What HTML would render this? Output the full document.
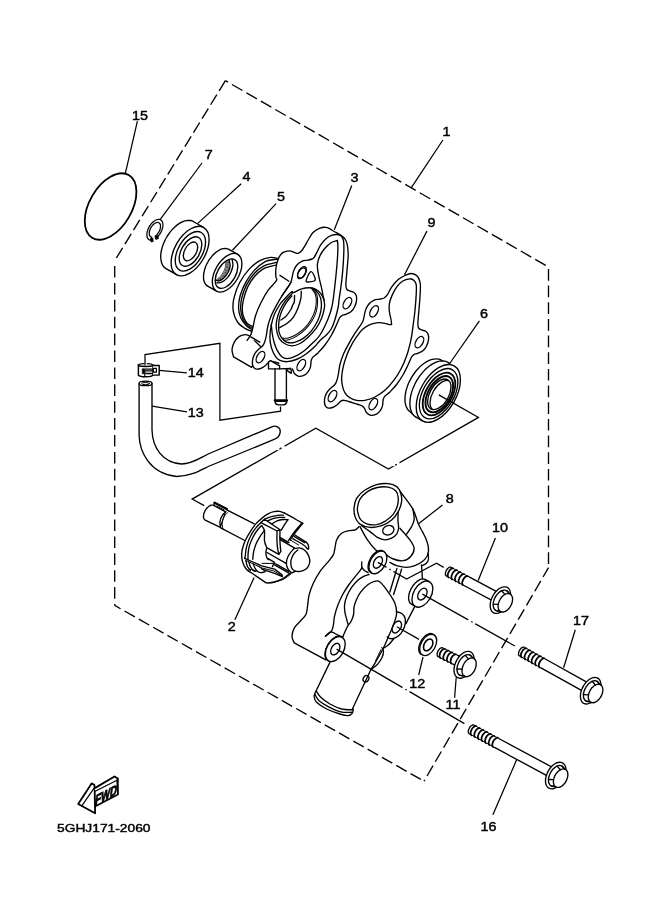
<!DOCTYPE html>
<html><head><meta charset="utf-8"><title>Water Pump</title>
<style>
html,body{margin:0;padding:0;background:#fff;}
body{width:661px;height:913px;overflow:hidden;}
svg{display:block;}
.l{fill:none;stroke:#000;stroke-width:1.35;stroke-linecap:round;stroke-linejoin:round;}
.n{fill:none;stroke:#000;stroke-width:1.0;stroke-linecap:round;stroke-linejoin:round;}
.t{fill:none;stroke:#000;stroke-width:1.25;stroke-linecap:butt;}
.f{fill:#fff;stroke:#000;stroke-width:1.35;stroke-linejoin:round;stroke-linecap:round;}
.w{fill:#fff;stroke:none;}
.k{fill:#000;stroke:#000;stroke-width:0.6;}
.d{fill:none;stroke:#000;stroke-width:1.35;stroke-dasharray:12 5;}
.c{fill:none;stroke:#000;stroke-width:1.1;stroke-dasharray:22 3 3 3;}
text{font-family:"Liberation Sans",Arial,sans-serif;font-size:12.4px;fill:#000;stroke:#000;stroke-width:0.42px;text-anchor:middle;}
</style></head><body>
<svg width="661" height="913" viewBox="0 0 661 913">
<rect width="661" height="913" fill="#fff"/>
<g id="outline">
<path class="d" d="M225.4 80.7 L114.7 260.7" style="stroke-dasharray:11.9 4.45;stroke-dashoffset:0"/>
<path class="d" d="M225.4 80.7 L548.5 267" style="stroke-dasharray:12.1 4.57;stroke-dashoffset:9.1"/>
<path class="d" d="M548.5 267 L548.5 567.7" style="stroke-dasharray:11.7 4.96;stroke-dashoffset:14.7"/>
<path class="d" d="M548.5 567.7 L424 781.2" style="stroke-dasharray:11.9 4.55;stroke-dashoffset:1.1"/>
<path class="d" d="M424 781.2 L114.7 605.4" style="stroke-dasharray:11.9 4.55;stroke-dashoffset:12.9"/>
<path class="d" d="M114.7 260.7 L114.7 605.4" style="stroke-dasharray:11.6 5.3;stroke-dashoffset:11.6"/>
</g>
<g id="p15">
<ellipse class="l" cx="110.6" cy="206.5" rx="21.2" ry="36.3" transform="rotate(30 110.6 206.5)" style="stroke-width:1.8"/>
</g>
<g id="p7">
<path class="f" d="M150.4 240.2 C150.3 240.2 149.8 240.1 149.5 240 C149.3 239.8 149 239.7 148.8 239.5 C148.5 239.3 148.3 239.1 148.1 238.9 C147.9 238.6 147.7 238.3 147.6 238 C147.4 237.7 147.3 237.4 147.2 237 C147.1 236.7 147 236.3 147 235.9 C146.9 235.5 146.9 235.1 146.9 234.7 C146.9 234.2 146.9 233.8 147 233.3 C147 232.9 147.1 232.4 147.2 231.9 C147.3 231.4 147.4 230.9 147.6 230.5 C147.8 230 147.9 229.5 148.1 229 C148.3 228.5 148.6 228 148.8 227.5 C149 227.1 149.3 226.6 149.6 226.1 C149.9 225.7 150.2 225.2 150.5 224.8 C150.8 224.4 151.1 223.9 151.5 223.5 C151.8 223.2 152.2 222.8 152.5 222.4 C152.9 222.1 153.2 221.8 153.6 221.5 C154 221.2 154.4 220.9 154.7 220.7 C155.1 220.4 155.5 220.2 155.9 220 C156.2 219.9 156.6 219.7 157 219.6 C157.3 219.5 157.7 219.4 158 219.4 C158.4 219.3 158.7 219.3 159 219.3 C159.3 219.4 159.7 219.4 159.9 219.5 C160.2 219.6 160.5 219.8 160.8 219.9 C161 220.1 161.3 220.3 161.5 220.5 C161.7 220.7 161.9 221 162 221.2 C162.2 221.5 162.4 221.8 162.5 222.2 C162.6 222.5 162.7 222.9 162.8 223.3 C162.8 223.6 162.9 224 162.9 224.5 C162.9 224.9 162.9 225.3 162.9 225.8 C162.8 226.2 162.8 226.7 162.7 227.2 C162.6 227.6 162.5 228.1 162.4 228.6 C162.2 229.1 162.1 229.6 161.9 230.1 C161.7 230.6 161.5 231.1 161.2 231.5 C161 232 160.8 232.5 160.5 233 C160.2 233.4 159.9 233.9 159.6 234.3 C159.3 234.8 159 235.2 158.7 235.6 C158.4 236 158 236.4 157.7 236.8 C157.3 237.1 157 237.5 156.6 237.8 C156.2 238.1 155.7 238.5 155.5 238.7 L155.3 236 155.3 236 C155.4 235.9 155.8 235.7 156.1 235.4 C156.3 235.2 156.6 235 156.9 234.7 C157.1 234.5 157.3 234.2 157.6 233.9 C157.8 233.6 158 233.3 158.2 233 C158.5 232.7 158.7 232.4 158.8 232 C159 231.7 159.2 231.4 159.4 231 C159.5 230.7 159.7 230.3 159.8 230 C159.9 229.7 160.1 229.3 160.2 229 C160.2 228.6 160.3 228.3 160.4 227.9 C160.4 227.6 160.5 227.3 160.5 227 C160.5 226.7 160.5 226.3 160.5 226 C160.5 225.7 160.5 225.5 160.4 225.2 C160.4 224.9 160.3 224.7 160.2 224.4 C160.2 224.2 160.1 224 159.9 223.8 C159.8 223.6 159.7 223.4 159.5 223.2 C159.4 223.1 159.2 222.9 159 222.8 C158.9 222.7 158.7 222.6 158.5 222.6 C158.2 222.5 158 222.5 157.8 222.4 C157.6 222.4 157.3 222.4 157.1 222.5 C156.9 222.5 156.6 222.5 156.3 222.6 C156.1 222.7 155.8 222.8 155.6 222.9 C155.3 223 155 223.2 154.8 223.4 C154.5 223.5 154.3 223.7 154 223.9 C153.7 224.1 153.5 224.4 153.2 224.6 C153 224.9 152.7 225.1 152.5 225.4 C152.2 225.7 152 226 151.8 226.3 C151.6 226.6 151.4 226.9 151.2 227.2 C151 227.5 150.8 227.9 150.6 228.2 C150.4 228.5 150.3 228.9 150.1 229.2 C150 229.6 149.9 229.9 149.8 230.3 C149.7 230.6 149.6 230.9 149.5 231.3 C149.4 231.6 149.4 232 149.3 232.3 C149.3 232.6 149.3 232.9 149.3 233.2 C149.3 233.5 149.3 233.8 149.3 234.1 C149.3 234.4 149.4 234.7 149.5 234.9 C149.5 235.2 149.6 235.4 149.7 235.6 C149.8 235.8 150 236 150.1 236.2 C150.3 236.4 150.4 236.5 150.6 236.6 C150.7 236.8 150.9 236.9 151.1 237 C151.3 237 151.7 237.1 151.8 237.1Z" style="stroke-width:1.25"/>
<path class="k" d="M150.6 238.6 L153 238.2 L153.3 241.6 L150.9 242 Z M155.7 236.2 L158.1 235.4 L158.5 238.6 L156.3 239.6 Z"/>
</g>
<g id="p4">
<path class="f" d="M176.5 274.7 L166.1 268.7 M166.1 268.7 C165.7 268.4 164.6 267.7 164 267 C163.4 266.3 162.8 265.5 162.4 264.7 C161.9 263.8 161.6 262.8 161.3 261.7 C161 260.7 160.9 259.5 160.8 258.3 C160.7 257.1 160.7 255.8 160.8 254.4 C160.9 253.1 161.1 251.7 161.5 250.3 C161.8 248.9 162.1 247.4 162.6 246 C163.1 244.6 163.7 243.1 164.3 241.7 C165 240.3 165.7 238.8 166.5 237.5 C167.3 236.1 168.1 234.8 169.1 233.5 C170 232.2 170.9 231 171.9 229.9 C173 228.7 174 227.7 175.1 226.7 C176.1 225.7 177.2 224.8 178.3 224.1 C179.4 223.3 180.6 222.7 181.7 222.1 C182.7 221.6 183.8 221.1 184.9 220.8 C186 220.5 187 220.4 188 220.3 C189 220.3 189.9 220.3 190.8 220.5 C191.7 220.7 192.9 221.3 193.3 221.5 M193.3 221.5 L203.7 227.5"/>
<ellipse class="f" cx="190.1" cy="251.1" rx="15.3" ry="27.2" transform="rotate(30 190.1 251.1)"/>
<ellipse class="l" cx="190.4" cy="251.3" rx="12.2" ry="21.7" transform="rotate(30 190.4 251.3)"/>
<ellipse class="l" cx="190.5" cy="251.5" rx="9.1" ry="16.2" transform="rotate(30 190.5 251.5)"/>
<ellipse class="l" cx="190.5" cy="251.4" rx="5.8" ry="10.3" transform="rotate(30 190.5 251.4)"/>
</g>
<g id="p5">
<path class="f" d="M216.5 291.2 L207.7 286.1 M207.7 286.1 C207.4 285.8 206.5 285.3 206 284.8 C205.6 284.2 205.1 283.6 204.8 282.9 C204.4 282.2 204.2 281.5 203.9 280.6 C203.7 279.8 203.6 278.9 203.5 277.9 C203.5 277 203.5 276 203.6 275 C203.7 273.9 203.8 272.8 204.1 271.7 C204.3 270.6 204.6 269.5 205 268.4 C205.4 267.3 205.8 266.1 206.3 265 C206.8 263.9 207.4 262.8 208 261.8 C208.6 260.7 209.3 259.7 210 258.7 C210.7 257.7 211.5 256.7 212.2 255.8 C213 255 213.8 254.1 214.7 253.4 C215.5 252.6 216.4 251.9 217.2 251.4 C218.1 250.8 218.9 250.2 219.8 249.8 C220.6 249.4 221.5 249.1 222.3 248.8 C223.1 248.6 223.9 248.5 224.7 248.4 C225.5 248.4 226.2 248.4 226.9 248.6 C227.6 248.7 228.5 249.2 228.9 249.3 M228.9 249.3 L237.7 254.4"/>
<ellipse class="f" cx="227.1" cy="272.8" rx="11.9" ry="21.2" transform="rotate(30 227.1 272.8)"/>
<clipPath id="c5"><ellipse cx="226.5" cy="273.6" rx="9.1" ry="16.2" transform="rotate(30 226.5 273.6)"/></clipPath>
<g clip-path="url(#c5)">
<path class="l" d="M231.9 258.6 C232.1 259.7 233.1 263.1 232.9 265.4 C232.7 267.7 231.9 270 230.9 272.2 C229.9 274.4 228.4 276.7 226.8 278.4 C225.2 280.1 223 281.7 221.3 282.4 C219.7 283.1 217.6 282.7 216.9 282.8"/>
<path class="l" d="M228.8 259.3 C229 260.3 230.2 263.4 230.2 265.4 C230.1 267.4 229.4 269.6 228.5 271.5 C227.6 273.4 226.1 275.5 224.7 277 C223.3 278.5 221.3 280.1 220 280.7 C218.7 281.3 217.2 280.4 216.6 280.4"/>
<path class="n" d="M227.7 259.2 C227.9 260.2 229.1 263.3 229 265.3 C229 267.3 228.3 269.5 227.3 271.4 C226.4 273.3 225 275.4 223.5 276.9 C222.1 278.4 220.2 280 218.8 280.6 C217.5 281.2 216 280.3 215.4 280.3" style="stroke-width:0.7"/>
<path class="n" d="M226.5 259.1 C226.7 260.1 227.9 263.2 227.9 265.2 C227.8 267.2 227.1 269.4 226.2 271.3 C225.3 273.2 223.8 275.3 222.4 276.8 C221 278.3 219 279.9 217.7 280.5 C216.3 281.1 214.9 280.2 214.3 280.2" style="stroke-width:0.7"/>
<path class="n" d="M225.4 259 C225.6 260 226.8 263.1 226.8 265.1 C226.7 267.1 226 269.3 225.1 271.2 C224.1 273.1 222.7 275.2 221.2 276.7 C219.8 278.2 217.9 279.8 216.6 280.4 C215.2 281 213.7 280.1 213.2 280.1" style="stroke-width:0.7"/>
<path class="n" d="M224.2 258.9 C224.4 259.9 225.7 263 225.6 265 C225.5 267 224.8 269.2 223.9 271.1 C223 273 221.5 275.1 220.1 276.6 C218.7 278.1 216.8 279.7 215.4 280.3 C214.1 280.9 212.6 280.1 212 280" style="stroke-width:0.7"/>
</g>
<ellipse class="l" cx="226.5" cy="273.6" rx="9.1" ry="16.2" transform="rotate(30 226.5 273.6)"/>
</g>
<g id="p3">
<path class="f" d="M279.5 259.2 C279.2 259.1 279.3 258.8 277.8 258.5 C276.3 258.2 273.4 257 270.4 257.4 C267.4 257.8 263.3 258.7 259.8 260.6 C256.3 262.6 252.6 265.4 249.2 269.1 C245.8 272.8 242.2 277.9 239.6 282.8 C237 287.7 234.9 293.9 233.8 298.7 C232.8 303.5 232.7 307.5 233.3 311.4 C233.9 315.3 235.6 319.2 237.5 322 C239.4 324.8 242.7 326.9 244.9 328.4 C247.1 329.9 249.5 330.5 250.8 331 C252.2 331.5 252.6 331.4 253 331.5"/>
<path class="l" d="M278 259.3 C277.4 259.3 276.8 259.1 274.6 259.5 C272.5 259.9 268.5 259.8 265.1 261.6 C261.8 263.4 257.7 266.7 254.5 270.1 C251.3 273.5 248.4 277.6 246 281.8 C243.6 286 241.4 291.1 240.2 295.5 C239 299.9 238.5 304.5 238.6 308.2 C238.7 311.9 239.5 315 240.7 317.8 C241.9 320.6 244.3 323.4 246 325.2 C247.7 327 249.6 328.1 250.8 328.9 C252 329.7 252.6 329.8 253 330"/>
<path class="l" d="M277 262.4 C276.4 262.5 275.7 262.6 273.5 263.2 C271.3 263.8 267.2 264.2 264 265.9 C260.8 267.6 257.4 270.1 254.5 273.3 C251.6 276.5 248.6 280.8 246.5 284.9 C244.4 289 242.8 293.6 241.8 297.7 C240.8 301.8 240.5 305.8 240.7 309.3 C240.9 312.8 241.8 316.3 242.8 318.8 C243.8 321.3 245.1 322.7 246.5 324.1 C247.9 325.6 249.8 326.8 251 327.5 C252.2 328.2 253.1 328.3 253.5 328.5"/>
<path class="l" d="M276.5 264.9 C275.8 265.1 274.8 265.2 272.5 265.9 C270.2 266.6 265.9 267.3 262.9 269.1 C259.9 270.9 257.1 273.5 254.5 276.5 C251.9 279.5 249.4 283.2 247.6 287.1 C245.8 291 244.3 295.9 243.4 299.8 C242.5 303.7 242.2 307.4 242.3 310.4 C242.4 313.4 243.1 315.7 243.9 317.8 C244.7 319.9 245.8 321.7 247.1 323.1 C248.4 324.5 250.3 325.4 251.5 326 C252.7 326.6 253.6 326.8 254 327"/>
<path class="f" d="M251.6 367.4 L233.6 356.9 L233.6 356.9 C233.3 355.7 231.9 352.3 232 349.9 C232.1 347.5 233 344.6 234.2 342.4 C235.4 340.2 237.3 337.9 239.1 336.6 C240.9 335.3 243.5 334.8 245 334.6 C246.5 334.4 247.3 334.9 248.3 335.3 C249.3 335.7 250.6 336.7 251 337 L262 348Z"/>
<path class="w" d="M247.1 340.5 C247.7 339.5 249.8 336.9 250.8 334.7 C251.8 332.5 252.1 330.5 252.9 327.3 C253.7 324.1 254.2 319.8 255.5 315.7 C256.8 311.6 258.7 307.2 260.8 303 C262.9 298.8 265.6 293.9 268.2 290.2 C270.8 286.5 275.1 282.9 276.4 280.7 C277.7 278.5 276 278.6 275.9 277 C275.8 275.4 275.6 273.4 275.7 271.2 C275.8 269 276.2 266 276.7 263.8 C277.2 261.6 278.1 259.5 278.6 258.2 C279.1 256.9 279.1 256.8 279.9 255.8 C280.7 254.8 281.7 253.2 283.2 252.4 C284.7 251.6 287.2 250.8 289.1 250.8 C291.1 250.8 293.4 252.2 294.9 252.6 C296.4 253 297.1 253.6 298.2 253.3 C299.3 253 300.5 252.1 301.6 250.8 C302.7 249.6 303.8 247.6 304.9 245.8 C306 244 306.8 242.2 308.2 240 C309.6 237.8 311.1 234.5 313 232.6 C314.9 230.7 317.3 229.3 319.4 228.4 C321.5 227.5 323.9 227.2 325.7 227.3 C327.4 227.4 328.5 228.2 329.9 228.9 C331.3 229.6 332.6 230.6 334.2 231.5 C335.8 232.4 337.8 233.1 339.5 234.2 C341.2 235.3 343 236.4 344.2 237.9 C345.4 239.4 346.4 242.3 346.9 243.2 L330 300 L270 340Z"/>
<path class="l" d="M279.9 275.4 L288.9 281.2"/>
<path class="l" d="M250.8 336.8 L259.8 342.1"/>
<path class="w" d="M332.9 236.5 C335.1 235.5 337.5 234.4 339.5 234.5 C341.6 234.6 343.9 235.7 345.4 237.3 C346.8 238.9 347.7 241.2 348.2 244 C348.7 246.8 348.4 249.5 348.2 254 C348 258.4 347.4 265.6 347 270.6 C346.6 275.6 345.9 280.9 345.9 283.9 C345.8 287 345.9 287.7 346.5 288.9 C347.1 290.1 348.3 290.4 349.5 290.9 C350.7 291.5 352.6 291.5 353.7 292.2 C354.8 293 355.7 294.2 356.2 295.6 C356.7 297 356.7 298.8 356.5 300.6 C356.3 302.4 355.7 304.6 354.8 306.4 C354 308.2 352.6 310.1 351.2 311.4 C349.7 312.7 347.7 313.5 346.2 314.2 C344.7 314.9 343.1 314.9 342 315.5 C340.9 316.2 340.5 316.4 339.5 318 C338.6 319.7 337.6 322.6 336.2 325.5 C334.8 328.4 333.2 332.2 331.2 335.5 C329.3 338.8 326.8 342.6 324.6 345.5 C322.3 348.4 319.8 351 317.9 353 C316 354.9 314 355.9 312.9 357.1 C311.8 358.4 311.7 358.8 311.2 360.5 C310.8 362.1 311 365.2 310.4 367.1 C309.9 369.1 309 370.7 307.9 372.1 C306.8 373.5 305.3 374.8 303.8 375.4 C302.2 376.1 300.3 376.6 298.8 376.3 C297.2 376 295.6 374.9 294.6 373.8 C293.6 372.7 293.3 370.7 292.6 369.6 C291.9 368.5 291.5 367.8 290.4 367.1 C289.4 366.4 288.4 366.2 286.3 365.5 C284.2 364.8 280.3 363.7 278 363 C275.6 362.3 273.7 361.4 272.1 361.3 C270.6 361.2 269.9 361.4 268.8 362.1 C267.7 362.8 266.9 364.4 265.5 365.5 C264.1 366.5 262.2 367.9 260.5 368.5 C258.8 369 256.7 369.2 255.5 368.8 C254.2 368.4 253.5 367.7 253 366.3 C252.5 364.9 252.3 362.4 252.5 360.5 C252.7 358.5 253.4 356.4 254.3 354.6 C255.2 352.8 256.7 351 258 349.7 C259.3 348.3 261 347.6 262.2 346.3 C263.3 345.1 264 344 264.6 342.2 C265.3 340.4 265.8 338.3 266.3 335.5 C266.9 332.7 267.1 328.9 268 325.5 C268.8 322.2 269.9 318.9 271.3 315.5 C272.7 312.2 274.5 308.9 276.3 305.6 C278.1 302.2 280.2 298.6 282.1 295.6 C284.1 292.5 286.5 289.5 287.9 287.2 C289.4 285 290.2 283.9 290.9 282.3 C291.6 280.6 291.6 279.2 292.1 277.3 C292.6 275.3 292.9 272.7 293.8 270.6 C294.6 268.5 295.7 266.4 297.1 264.8 C298.5 263.2 300.3 261.9 302.1 261.1 C303.9 260.3 306.3 260.5 307.9 260.1 C309.6 259.8 310.8 259.7 312.1 259 C313.3 258.2 314.2 257.4 315.4 255.6 C316.7 253.8 317.8 250.6 319.6 248.1 C321.4 245.6 324 242.6 326.2 240.6 C328.4 238.7 330.7 237.5 332.9 236.5Z"/>
<path class="w" d="M339.5 234.5 C341.7 234.8 343.9 235.7 345.4 237.3 C346.8 238.9 347.7 241.2 348.2 244 C348.7 246.8 348.4 249.5 348.2 254 C348 258.4 347.4 265.6 347 270.6 C346.6 275.6 345.9 280.9 345.9 283.9 C345.8 287 345.9 287.7 346.5 288.9 C347.1 290.1 348.3 290.4 349.5 290.9 C350.7 291.5 352.6 291.5 353.7 292.2 C354.8 293 355.7 294.2 356.2 295.6 C356.7 297 356.7 298.8 356.5 300.6 C356.3 302.4 355.7 304.6 354.8 306.4 C354 308.2 352.6 310.1 351.2 311.4 C349.7 312.7 347.7 313.5 346.2 314.2 C344.7 314.9 343.1 314.9 342 315.5 C340.9 316.2 340.5 316.4 339.5 318 C338.6 319.7 337.6 322.6 336.2 325.5 C334.8 328.4 333.2 332.2 331.2 335.5 C329.3 338.8 326.8 342.6 324.6 345.5 C322.3 348.4 319.8 351 317.9 353 C316 354.9 314 355.9 312.9 357.1 C311.8 358.4 311.7 358.8 311.2 360.5 C310.8 362.1 311 365.2 310.4 367.1 C309.9 369.1 309 370.7 307.9 372.1 C306.8 373.5 305.3 374.8 303.8 375.4 C302.2 376.1 300.3 376.6 298.8 376.3 C297.2 376 295.6 374.9 294.6 373.8 C293.6 372.7 293.3 370.7 292.6 369.6 C291.9 368.5 291.5 367.8 290.4 367.1 C289.4 366.4 288.4 366.2 286.3 365.5 C284.2 364.8 280.3 363.7 278 363 C275.6 362.3 273.7 361.4 272.1 361.3 C270.6 361.2 269.9 361.4 268.8 362.1 C267.7 362.8 266.9 364.4 265.5 365.5 C264.1 366.5 262.2 367.9 260.5 368.5 C258.8 369 256.7 369.2 255.5 368.8 C254.2 368.4 253.5 367.7 253 366.3 C252.5 364.9 252.3 362.4 252.5 360.5 C252.7 358.5 253.4 356.4 254.3 354.6 C255.2 352.8 256.7 351 258 349.7 C259.3 348.3 261 347.6 262.2 346.3 C263.3 345.1 264 344 264.6 342.2 C265.3 340.4 265.8 338.3 266.3 335.5 C266.9 332.7 267.1 328.9 268 325.5 C268.8 322.2 269.9 318.9 271.3 315.5 C272.7 312.2 274.5 308.9 276.3 305.6 C278.1 302.2 280.2 298.6 282.1 295.6 C284.1 292.5 286.5 289.5 287.9 287.2 C289.4 285 290.2 283.9 290.9 282.3 C291.6 280.6 291.6 279.2 292.1 277.3 C292.6 275.3 292.9 272.7 293.8 270.6 C294.6 268.5 295.7 266.4 297.1 264.8 C298.5 263.2 300.3 261.9 302.1 261.1 C303.9 260.3 306.3 260.5 307.9 260.1 C309.6 259.8 311 259.4 312.1 259 C313.1 258.5 313.3 258.5 314.1 257.5 C314.9 256.5 315.6 254.7 316.7 252.7 C317.8 250.7 318.9 247.6 320.4 245.3 C321.9 243 323.8 240.6 325.7 238.9 C327.6 237.2 329.8 235.9 332.1 235.2 C334.4 234.5 337.3 234.1 339.5 234.5Z"/>
<path class="l" d="M247.1 340.5 C247.7 339.5 249.8 336.9 250.8 334.7 C251.8 332.5 252.1 330.5 252.9 327.3 C253.7 324.1 254.2 319.8 255.5 315.7 C256.8 311.6 258.7 307.2 260.8 303 C262.9 298.8 265.6 293.9 268.2 290.2 C270.8 286.5 275.1 282.9 276.4 280.7 C277.7 278.5 276 278.6 275.9 277 C275.8 275.4 275.6 273.4 275.7 271.2 C275.8 269 276.2 266 276.7 263.8 C277.2 261.6 278.1 259.5 278.6 258.2 C279.1 256.9 279.1 256.8 279.9 255.8 C280.7 254.8 281.7 253.2 283.2 252.4 C284.7 251.6 287.2 250.8 289.1 250.8 C291.1 250.8 293.4 252.2 294.9 252.6 C296.4 253 297.1 253.6 298.2 253.3 C299.3 253 300.5 252.1 301.6 250.8 C302.7 249.6 303.8 247.6 304.9 245.8 C306 244 306.8 242.2 308.2 240 C309.6 237.8 311.1 234.5 313 232.6 C314.9 230.7 317.3 229.3 319.4 228.4 C321.5 227.5 323.9 227.2 325.7 227.3 C327.4 227.4 328.5 228.2 329.9 228.9 C331.3 229.6 332.6 230.6 334.2 231.5 C335.8 232.4 337.8 233.1 339.5 234.2 C341.2 235.3 343 236.4 344.2 237.9 C345.4 239.4 346.2 240.5 346.9 243.2 C347.6 245.9 348.2 249.4 348.2 254 C348.2 258.5 347.4 265.6 347 270.6 C346.6 275.6 345.9 280.9 345.9 283.9 C345.8 287 345.9 287.7 346.5 288.9 C347.1 290.1 348.3 290.4 349.5 290.9 C350.7 291.5 352.6 291.5 353.7 292.2 C354.8 293 355.7 294.2 356.2 295.6 C356.7 297 356.7 298.8 356.5 300.6 C356.3 302.4 355.7 304.6 354.8 306.4 C354 308.2 352.6 310.1 351.2 311.4 C349.7 312.7 347.7 313.5 346.2 314.2 C344.7 314.9 343.1 314.9 342 315.5 C340.9 316.2 340.5 316.4 339.5 318 C338.6 319.7 337.6 322.6 336.2 325.5 C334.8 328.4 333.2 332.2 331.2 335.5 C329.3 338.8 326.8 342.6 324.6 345.5 C322.3 348.4 319.8 351 317.9 353 C316 354.9 314 355.9 312.9 357.1 C311.8 358.4 311.7 358.8 311.2 360.5 C310.8 362.1 311 365.2 310.4 367.1 C309.9 369.1 309 370.7 307.9 372.1 C306.8 373.5 305.3 374.8 303.8 375.4 C302.2 376.1 300.3 376.6 298.8 376.3 C297.2 376 295.6 374.9 294.6 373.8 C293.6 372.7 293.3 370.7 292.6 369.6 C291.9 368.5 291.5 367.8 290.4 367.1 C289.4 366.4 288.4 366.2 286.3 365.5 C284.2 364.8 280.3 363.7 278 363 C275.6 362.3 273.7 361.4 272.1 361.3 C270.6 361.2 269.9 361.4 268.8 362.1 C267.7 362.8 266.9 364.4 265.5 365.5 C264.1 366.5 262.2 367.9 260.5 368.5 C258.8 369 256.7 369.2 255.5 368.8 C254.2 368.4 253.5 367.7 253 366.3 C252.5 364.9 252.3 362.4 252.5 360.5 C252.7 358.5 253.4 356.4 254.3 354.6 C255.2 352.8 256.7 351 258 349.7 C259.3 348.3 261 347.6 262.2 346.3 C263.3 345.1 264 344 264.6 342.2 C265.3 340.4 265.8 338.3 266.3 335.5 C266.9 332.7 267.1 328.9 268 325.5 C268.8 322.2 269.9 318.9 271.3 315.5 C272.7 312.2 274.5 308.9 276.3 305.6 C278.1 302.2 280.2 298.6 282.1 295.6 C284.1 292.5 286.5 289.5 287.9 287.2 C289.4 285 290.4 283.1 290.9 282.3"/>
<path class="w" d="M279.4 362 L292 365.8 L292 372 L279.4 370Z"/>
<path class="w" d="M275 368.9 L275 399.4 L286.4 399.4 L286.4 368.9Z"/>
<path class="f" d="M268.5 362.1 L270.5 360.6 L279.6 365.9 L279.6 368.9 L268.5 368.9Z"/>
<path class="l" d="M279.6 368.9 L290.6 368.5"/>
<path class="f" d="M286.4 369.3 L290.6 368.5 L291.3 370.8 L291.2 373.4 L286.8 370.4"/>
<path class="l" d="M275 368.9 L275 399.4 M286.4 369.3 L286.4 399.4"/>
<path class="f" d="M275 401.4 C275.2 404 276.5 404.8 278.5 404.8 L283.5 404.8 C285.8 404.6 286.7 403.6 286.8 401.4Z"/>
<path class="l" d="M274.8 400.3 L287 400.3" style="stroke-width:2.3;stroke-linecap:round"/>
<path class="l" d="M282.1 295.6 C283.1 294.2 286.5 289.5 287.9 287.2 C289.4 285 290.2 283.9 290.9 282.3 C291.6 280.6 291.6 279.2 292.1 277.3 C292.6 275.3 292.9 272.7 293.8 270.6 C294.6 268.5 295.7 266.4 297.1 264.8 C298.5 263.2 300.3 261.9 302.1 261.1 C303.9 260.3 306.3 260.5 307.9 260.1 C309.6 259.8 311 259.4 312.1 259 C313.1 258.5 313.3 258.5 314.1 257.5 C314.9 256.5 315.6 254.7 316.7 252.7 C317.8 250.7 318.9 247.6 320.4 245.3 C321.9 243 323.8 240.6 325.7 238.9 C327.6 237.2 330.2 235.9 332.1 235.2 C334.1 234.5 335.9 234.4 337.4 234.5 C338.9 234.6 340.2 235 341.2 236 C342.2 237 343.1 238.3 343.5 240.6 C343.9 242.8 343.9 245.5 343.9 249.5 C343.8 253.5 343.5 259.8 343.2 264.4 C342.9 269 342.6 272.9 342.1 277.1 C341.7 281.3 341 286 340.5 289.8 C340 293.6 339.4 297.1 339 300 C338.6 302.9 338.9 303.7 338.2 307 C337.5 310.3 336 316.2 334.9 319.8 C333.8 323.4 332.9 326 331.5 328.5 C330.1 331 328.5 332.8 326.6 334.8 C324.7 336.8 322 338.4 320 340.4 C318 342.4 316.9 344.4 314.5 346.8 C312.1 349.2 308.4 352.4 305.4 354.5 C302.4 356.6 299.3 358.3 296.3 359.5 C293.3 360.7 289.9 361.6 287.2 361.7 C284.5 361.8 281.8 361.1 280 360.4 C278.2 359.7 277.5 359.1 276.3 357.6 C275.1 356.1 273.7 353.7 272.7 351.3 C271.7 348.9 270.8 345.8 270.4 343.1 C269.9 340.4 269.9 338 270 335 C270.1 332 270.6 328.5 271.3 325 C272.1 321.5 273.1 317.4 274.5 314.1 C275.9 310.8 278 307.4 279.5 305 C281 302.6 281.9 301.9 283.6 300 C285.3 298.1 288.2 295 289.5 293.6 C290.8 292.2 291.1 292.2 291.6 291.9 C292.1 291.6 292.4 291.5 292.6 291.6 C292.8 291.7 292.6 292.4 292.6 292.6"/>
<path class="l" d="M337.4 240.5 C337.5 241.8 338 244.5 337.9 248.5 C337.8 252.5 337.4 259.6 337 264.4 C336.6 269.2 336.2 272.9 335.8 277.1 C335.4 281.3 334.8 286 334.4 289.8 C333.9 293.6 333.6 297 333.1 300 C332.6 303 332.5 304.8 331.6 308 C330.8 311.2 329.9 314.5 328 319 C326.1 323.5 322.6 331 320 335 C317.4 339 315.3 340.4 312.6 343.1 C309.9 345.8 306.6 349 303.6 351.3 C300.6 353.6 297.2 355.5 294.5 356.7 C291.8 357.9 289.3 358.6 287.2 358.6 C285.1 358.6 283.5 358.1 281.8 356.7 C280.1 355.3 278.5 352.8 277.2 350.4 C275.9 348 274.9 344.9 274.1 342.2 C273.3 339.5 272.7 336.4 272.3 334 C271.9 331.6 271.8 329.2 271.6 327.7 C271.4 326.2 271.4 325.4 271.3 325"/>
<path class="l" d="M337.4 240.5 C336.3 240.9 333.1 241.4 331 242.7 C328.9 244 326.6 246.3 324.7 248.5 C322.8 250.7 321.1 253.4 319.9 255.9 C318.7 258.4 317.9 260.8 317.5 263.3 C317.1 265.8 317.5 268.1 317.8 270.7 C318.1 273.3 318.8 276.4 319.4 279.2 C320 282 320.9 284.9 321.5 287.7 C322.1 290.5 322.7 293.8 323.1 296.1 C323.6 298.4 324 299.6 324.2 301.5 C324.4 303.4 324.9 304.4 324.5 307.2 C324.1 310 323.1 314.6 321.7 318.1 C320.3 321.6 318.6 324.9 316.3 328.1 C314 331.3 310.8 334.6 308.1 337.2 C305.4 339.8 302.7 342.1 300 343.5 C297.3 344.9 294.4 345.8 291.8 345.8 C289.2 345.8 286.6 344.8 284.5 343.5 C282.4 342.2 280.5 340.5 279.1 338.1 C277.8 335.7 276.8 332 276.4 329 C276 326 276.2 323.1 276.8 319.9 C277.4 316.7 278.6 313.2 280 310 C281.4 306.8 283.5 303.5 285.4 300.9 C287.3 298.3 290.1 295.9 291.3 294.5 C292.5 293.1 292.4 292.9 292.6 292.6"/>
<path class="l" d="M293.8 292.7 C295 292.1 298.4 289.9 300.9 289.1 C303.4 288.3 306.6 287.7 309 287.7 C311.4 287.7 313.4 288.1 315.4 289.1 C317.4 290.1 319.4 291.8 320.8 293.6 C322.2 295.4 323.5 298.9 324 300"/>
<path class="l" d="M313.6 288.6 C314.5 289.6 317.7 292.3 319 294.5 C320.3 296.7 321 299.1 321.3 301.8 C321.6 304.5 321.5 307.7 320.9 310.9 C320.3 314.1 319.2 317.5 317.7 320.8 C316.1 324.1 314 327.7 311.6 330.6 C309.2 333.5 306.5 336.1 303.6 338.1 C300.8 340.1 297.2 341.7 294.5 342.4 C291.8 343.1 289.2 343 287.2 342.4 C285.2 341.8 284 340.5 282.7 339 C281.4 337.5 280.2 335.6 279.5 333.6 C278.8 331.6 278.6 329.6 278.6 327.2 C278.6 324.8 278.8 321.7 279.3 319 C279.8 316.3 280.6 313.6 281.8 310.9 C283 308.2 284.6 305.2 286.3 302.7 C288 300.2 290.9 297 291.8 295.9"/>
<path class="l" d="M311.3 288.2 C312 289.2 314.6 292.2 315.4 294.5 C316.2 296.8 316.4 299.1 316.3 301.8 C316.2 304.5 315.8 307.9 314.9 310.9 C314 313.9 312.5 317 310.8 319.9 C309.1 322.8 306.9 325.7 304.5 328.1 C302.1 330.5 299 332.8 296.3 334.5 C293.6 336.2 290.4 337.5 288.2 338.1 C286 338.7 284 338.1 283.2 338.1" style="stroke-width:1.05"/>
<path class="l" d="M312.8 288.4 C313.5 289.5 316.1 292.6 316.9 295 C317.7 297.4 317.7 299.7 317.6 302.5 C317.5 305.3 317.1 308.6 316.2 311.6 C315.3 314.7 313.8 317.9 312 320.8 C310.2 323.7 308.1 326.7 305.6 329.2 C303.1 331.7 300 334.1 297.2 335.9 C294.4 337.7 291 339.1 288.8 339.8 C286.6 340.5 284.7 340.1 283.9 340.2" style="stroke-width:1.05"/>
<path class="l" d="M294.5 295.4 C294.5 296.5 294.6 300.2 294.3 301.8 C294 303.4 293.3 303.7 292.7 305 C292.1 306.3 292 307.7 290.9 309.5 C289.8 311.3 288 314.1 286.3 315.9 C284.6 317.6 281.8 319.3 280.9 320"/>
<path class="l" d="M301.3 291.3 C301.2 292.4 301.4 295.5 300.9 298.2 C300.4 300.9 299.3 304.6 298.1 307.7 C296.9 310.8 295.4 314.2 293.6 316.8 C291.8 319.4 289.6 321.4 287.2 323.2 C284.8 325 280.8 326.9 279.5 327.7"/>
<ellipse class="l" cx="302.1" cy="272.3" rx="3.5" ry="6.2" transform="rotate(30 302.1 272.3)"/>
<ellipse class="l" cx="347.4" cy="303.1" rx="3.5" ry="6.2" transform="rotate(30 347.4 303.1)"/>
<ellipse class="l" cx="301.3" cy="365.1" rx="3.5" ry="6.2" transform="rotate(30 301.3 365.1)"/>
<ellipse class="l" cx="260.5" cy="357.1" rx="3.5" ry="6.2" transform="rotate(30 260.5 357.1)"/>
<ellipse class="l" cx="301.6" cy="273.2" rx="3.3" ry="5.9" transform="rotate(30 301.6 273.2)"/>
<path class="l" d="M310.8 271.6 C312.2 271.2 314.3 275.9 314.9 277.4 C315.5 278.9 315.8 279.9 314.6 280.7 C313.4 281.5 308.9 282.1 307.5 282 C306.1 281.9 305.8 281.6 306.3 279.9 C306.9 278.2 309.4 272 310.8 271.6Z"/>
</g>
<g id="p9">
<path class="f" d="M404.9 275.5 C407.1 274.5 409.5 273.4 411.5 273.5 C413.6 273.6 415.9 274.7 417.4 276.3 C418.8 277.9 419.7 280.2 420.2 283 C420.7 285.8 420.4 288.5 420.2 293 C420 297.4 419.4 304.6 419 309.6 C418.6 314.6 417.9 319.9 417.9 322.9 C417.8 326 417.9 326.7 418.5 327.9 C419.1 329.1 420.3 329.4 421.5 329.9 C422.7 330.5 424.6 330.5 425.7 331.2 C426.8 332 427.7 333.2 428.2 334.6 C428.7 336 428.7 337.8 428.5 339.6 C428.3 341.4 427.7 343.6 426.8 345.4 C426 347.2 424.6 349.1 423.2 350.4 C421.7 351.7 419.7 352.5 418.2 353.2 C416.7 353.9 415.1 353.9 414 354.5 C412.9 355.2 412.5 355.4 411.5 357 C410.6 358.7 409.6 361.6 408.2 364.5 C406.8 367.4 405.2 371.2 403.2 374.5 C401.3 377.8 398.8 381.6 396.6 384.5 C394.3 387.4 391.8 390 389.9 392 C388 393.9 386 394.9 384.9 396.1 C383.8 397.4 383.7 397.8 383.2 399.5 C382.8 401.1 383 404.2 382.4 406.1 C381.9 408.1 381 409.7 379.9 411.1 C378.8 412.5 377.3 413.8 375.8 414.4 C374.2 415.1 372.3 415.6 370.8 415.3 C369.2 415 367.6 413.9 366.6 412.8 C365.6 411.7 365.3 409.7 364.6 408.6 C363.9 407.5 363.5 406.8 362.4 406.1 C361.4 405.4 360.4 405.2 358.3 404.5 C356.2 403.8 352.3 402.7 350 402 C347.6 401.3 345.7 400.4 344.1 400.3 C342.6 400.2 341.9 400.4 340.8 401.1 C339.7 401.8 338.9 403.4 337.5 404.5 C336.1 405.5 334.2 406.9 332.5 407.5 C330.8 408 328.7 408.2 327.5 407.8 C326.2 407.4 325.5 406.7 325 405.3 C324.5 403.9 324.3 401.4 324.5 399.5 C324.7 397.5 325.4 395.4 326.3 393.6 C327.2 391.8 328.7 390 330 388.7 C331.3 387.3 333 386.6 334.2 385.3 C335.3 384.1 336 383 336.6 381.2 C337.3 379.4 337.8 377.3 338.3 374.5 C338.9 371.7 339.1 367.9 340 364.5 C340.8 361.2 341.9 357.9 343.3 354.5 C344.7 351.2 346.5 347.9 348.3 344.6 C350.1 341.2 352.2 337.6 354.1 334.6 C356.1 331.5 358.5 328.5 359.9 326.2 C361.4 324 362.2 322.9 362.9 321.3 C363.6 319.6 363.6 318.2 364.1 316.3 C364.6 314.3 364.9 311.7 365.8 309.6 C366.6 307.5 367.7 305.4 369.1 303.8 C370.5 302.2 372.3 300.9 374.1 300.1 C375.9 299.3 378.3 299.5 379.9 299.1 C381.6 298.8 382.8 298.7 384.1 298 C385.3 297.2 386.2 296.4 387.4 294.6 C388.7 292.8 389.8 289.6 391.6 287.1 C393.4 284.6 396 281.6 398.2 279.6 C400.4 277.7 402.7 276.5 404.9 275.5Z"/>
<path class="l" d="M391.6 324.6 C391.5 323.9 391.5 322.1 391.2 320.4 C391 318.8 390.3 316.7 389.9 314.6 C389.5 312.5 389.1 310.2 389.1 307.9 C389.1 305.7 389.3 303.5 389.9 301.3 C390.5 299.1 391.3 297 392.4 294.6 C393.5 292.3 394.9 289.4 396.6 287.1 C398.2 284.9 400.2 282.7 402.4 281.3 C404.6 279.9 407.9 279 409.9 278.8 C411.8 278.7 413 279.5 414 280.5 C415.1 281.5 415.8 282.3 416.2 284.6 C416.6 287 416.4 290.2 416.2 294.6 C416 299.1 415.4 306.3 414.9 311.3 C414.4 316.3 413.7 320.7 413.2 324.6 C412.7 328.5 412.4 331.2 411.9 334.6 C411.3 337.9 410.8 340.9 409.9 344.6 C409 348.2 408.1 352 406.5 356.2 C405 360.4 402.9 365.4 400.7 369.5 C398.5 373.7 395.9 377.7 393.2 381.2 C390.6 384.6 388 387.7 384.9 390.3 C381.9 393 378.3 395.3 374.9 397 C371.6 398.6 368 399.7 364.9 400.3 C361.9 400.9 359.1 400.7 356.6 400.3 C354.1 399.9 351.9 399.1 350 397.8 C348 396.6 346.2 394.8 345 392.8 C343.7 390.9 343 388.7 342.5 386.2 C341.9 383.7 341.6 380.9 341.6 377.8 C341.7 374.8 342.3 371.2 343 367.9 C343.7 364.5 344.6 361.2 345.8 357.9 C347 354.5 348.3 351.2 350 347.9 C351.6 344.6 353.7 340.9 355.8 337.9 C357.9 334.8 360.1 331.8 362.4 329.6 C364.8 327.4 367.3 325.7 369.9 324.6 C372.6 323.4 375.8 322.8 378.3 322.6 C380.7 322.4 383.1 322.9 384.9 323.3 C386.7 323.6 388 324.4 389.1 324.6 C390.2 324.8 391.2 324.6 391.6 324.6"/>
<ellipse class="l" cx="374.1" cy="311.3" rx="3.5" ry="6.2" transform="rotate(30 374.1 311.3)"/>
<ellipse class="l" cx="419.4" cy="342.1" rx="3.5" ry="6.2" transform="rotate(30 419.4 342.1)"/>
<ellipse class="l" cx="373.3" cy="404.1" rx="3.5" ry="6.2" transform="rotate(30 373.3 404.1)"/>
<ellipse class="l" cx="332.5" cy="396.1" rx="3.5" ry="6.2" transform="rotate(30 332.5 396.1)"/>
</g>
<g id="p6">
<path class="f" d="M416.1 417.2 L410.9 412.5 M410.9 412.5 C410.5 412.1 409.3 411.3 408.6 410.6 C407.9 409.8 407.3 408.9 406.8 407.9 C406.3 406.9 405.9 405.8 405.6 404.6 C405.3 403.4 405.1 402.1 405 400.7 C404.9 399.4 405 397.9 405.1 396.4 C405.2 394.9 405.5 393.3 405.8 391.8 C406.2 390.2 406.6 388.6 407.2 386.9 C407.7 385.3 408.4 383.7 409.1 382.1 C409.9 380.5 410.7 378.9 411.6 377.4 C412.5 375.9 413.5 374.4 414.5 373 C415.6 371.6 416.7 370.2 417.8 369 C418.9 367.7 420.1 366.5 421.3 365.5 C422.5 364.4 423.8 363.5 425 362.7 C426.2 361.8 427.5 361.1 428.7 360.6 C429.9 360 431.1 359.6 432.3 359.3 C433.5 359 434.6 358.8 435.7 358.8 C436.8 358.8 437.9 358.9 438.9 359.2 C439.8 359.5 440.8 359.9 441.6 360.4 C442.4 361 443.4 362.1 443.8 362.5"/>
<path class="f" d="M422.4 420.9 L416.1 417.2 M416.1 417.2 C415.7 416.9 414.4 416 413.6 415.2 C412.9 414.4 412.3 413.4 411.7 412.3 C411.2 411.3 410.8 410.1 410.5 408.8 C410.2 407.5 410 406.1 409.9 404.6 C409.9 403.2 409.9 401.6 410.1 400 C410.2 398.4 410.5 396.7 410.9 395 C411.3 393.3 411.8 391.6 412.4 389.9 C413 388.2 413.8 386.4 414.6 384.7 C415.4 383 416.3 381.4 417.3 379.7 C418.3 378.1 419.3 376.6 420.4 375.1 C421.6 373.6 422.8 372.2 424 370.9 C425.2 369.6 426.5 368.4 427.8 367.3 C429.1 366.2 430.4 365.3 431.7 364.4 C433 363.6 434.4 362.9 435.6 362.4 C436.9 361.8 438.2 361.4 439.5 361.2 C440.7 360.9 441.9 360.9 443 360.9 C444.2 361 445.3 361.2 446.3 361.6 C447.3 361.9 448.2 362.5 449 363.1 C449.9 363.8 450.9 365.1 451.3 365.5 M451.3 365.5 L457.6 369.2"/>
<ellipse class="f" cx="438.3" cy="393.4" rx="17.8" ry="31.7" transform="rotate(30 438.3 393.4)"/>
<ellipse class="l" cx="438.6" cy="393.7" rx="15.5" ry="27.6" transform="rotate(30 438.6 393.7)"/>
<ellipse class="l" cx="439" cy="394" rx="13.1" ry="23.4" transform="rotate(30 439 394)" style="stroke-width:1.8"/>
<ellipse class="l" cx="439.3" cy="394.2" rx="11.1" ry="19.9" transform="rotate(30 439.3 394.2)" style="stroke-width:1.9"/>
<ellipse class="l" cx="439.3" cy="394.3" rx="9.4" ry="16.8" transform="rotate(30 439.3 394.3)"/>
<clipPath id="c6"><ellipse cx="439.3" cy="394.3" rx="9.4" ry="16.8" transform="rotate(30 439.3 394.3)"/></clipPath>
<g clip-path="url(#c6)">
<ellipse class="l" cx="441.6" cy="395.6" rx="9.3" ry="16.6" transform="rotate(30 441.6 395.6)" style="stroke-width:1.3"/>
</g>
</g>
</g>
<g id="p13">
<path class="f" d="M139.1 383.6 L139.1 434.8 C139.4 452 150 474 176.6 476.5 C190 476.5 200 470.5 208.2 466.5 L274.7 439.2 C281 436.5 282.5 428 276 426.3 C274.8 426 274 426 273.1 426.3 L208.2 454 C200 458 192 464 181.6 464 C163 463 152.5 448 152 429.9 L152 383.6"/>
<ellipse class="f" cx="145.55" cy="383.4" rx="6.45" ry="2.2"/>
<ellipse class="n" cx="145.6" cy="383.6" rx="4" ry="1.1"/>
</g>
<g id="p14">
<path class="f" d="M138.4 364.8 L138.4 375.3 C139.5 376.6 142 376.8 145.8 376.8 C149.5 376.8 152.3 376.4 153 375.2 L153 365" style="stroke-width:1.45"/>
<path class="l" d="M138.4 365 C139.2 363.9 141.5 363.6 143.8 363.6 M147.3 363.6 C150 363.6 152.4 364 153 365.2" style="stroke-width:1.45"/>
<path class="l" d="M138.8 365.8 C141 366.6 150.5 366.6 152.7 365.8" style="stroke-width:1.45"/>
<path class="f" d="M153 365.5 L159.2 365.5 L159.2 375.1 L153 375.1" style="stroke-width:1.45"/>
<path class="l" d="M153.4 368.4 L156.4 368.4 L156.4 372.2 L153.4 372.2 Z" style="stroke-width:1.2"/>
<path class="l" d="M142.4 369.2 L152.6 369.2 M145.8 373.5 L152.6 373.5 M144.6 370.9 L152.2 370.9" style="stroke-width:1.3"/>
<path class="k" d="M142.3 369.3 L144.3 369.3 L144.3 373.8 L142.3 373.8 Z"/>
<path class="l" d="M144.8 371 L144.8 375.4" style="stroke-width:1.2"/>
</g>
<g id="p2">
<path class="f" d="M205.2 520.2 C205 520.1 204.7 519.8 204.5 519.6 C204.3 519.4 204.1 519.2 204 518.9 C203.9 518.6 203.7 518.3 203.7 518 C203.6 517.7 203.5 517.3 203.5 516.9 C203.5 516.5 203.5 516.1 203.5 515.7 C203.5 515.3 203.6 514.9 203.7 514.4 C203.8 514 203.9 513.5 204.1 513.1 C204.2 512.6 204.4 512.2 204.6 511.7 C204.8 511.3 205 510.8 205.3 510.4 C205.5 510 205.8 509.6 206.1 509.2 C206.4 508.8 206.7 508.4 207 508 C207.3 507.7 207.6 507.4 208 507.1 C208.3 506.8 208.6 506.5 209 506.2 C209.3 506 209.7 505.8 210 505.6 C210.3 505.5 210.7 505.3 211 505.2 C211.3 505.1 211.7 505.1 212 505.1 C212.3 505.1 212.6 505.1 212.9 505.1 C213.1 505.2 213.5 505.4 213.7 505.4 L225.7 511.9 L220.4 527.3Z"/>
<path class="w" d="M226.8 509.8 L254.3 523.8 L244.8 540.5 L220.9 528Z"/>
<path class="l" d="M226.3 509.6 L254.3 523.8"/>
<path class="l" d="M220.7 527.8 L244.8 540.5"/>
<path class="l" d="M225.9 511.7 C225.3 512.4 223.2 514 222.2 515.7 C221.2 517.3 220.3 519.5 220 521.5 C219.7 523.5 220.4 526.5 220.5 527.5"/>
<path class="n" d="M228 512.3 C227.4 512.9 225.3 514.5 224.3 516.2 C223.3 517.9 222.4 520.5 222.1 522.5 C221.9 524.6 222.7 527.7 222.9 528.7"/>
<path class="l" d="M214.6 502.8 L226.8 509" style="stroke-width:2.4"/>
<path class="n" d="M216.7 506.2 L224.1 509.9"/>
<path class="l" d="M214.4 502.7 L214.1 505.4"/>
<path class="w" d="M284.6 513.1 C283.8 512.8 281.4 511.6 279.6 511.4 C277.8 511.2 275.7 511.2 273.8 511.7 C271.8 512.1 269.9 512.8 268 513.9 C266 515 264.1 516.4 262.1 518.1 C260.1 519.7 257.8 521.7 255.9 523.9 C253.9 526.1 252.1 528.8 250.5 531.4 C248.8 533.9 247.2 536.7 245.9 539.3 C244.7 541.8 243.7 544.4 243 546.8 C242.3 549.1 241.9 551.2 241.7 553.4 C241.6 555.6 241.7 558 242.2 560.1 C242.6 562.2 243.3 564.2 244.2 565.9 C245.1 567.6 246.3 569.3 247.6 570.5 C248.8 571.7 251 572.6 251.7 573 L265.7 582.6 265.7 582.6 C266.1 582.6 266.4 583.1 267.8 583 C269.3 582.9 272 582.7 274.5 582 C277 581.3 280.2 580.1 282.8 578.7 C285.4 577.2 288.4 574.4 290.3 573.3 C292.2 572.1 293.4 572 294 571.8 L309.8 560.8 L302.8 523.3Z"/>
<path class="l" d="M284.6 513.1 C283.8 512.8 281.4 511.6 279.6 511.4 C277.8 511.2 275.7 511.2 273.8 511.7 C271.8 512.1 269.9 512.8 268 513.9 C266 515 264.1 516.4 262.1 518.1 C260.1 519.7 257.8 521.7 255.9 523.9 C253.9 526.1 252.1 528.8 250.5 531.4 C248.8 533.9 247.2 536.7 245.9 539.3 C244.7 541.8 243.7 544.4 243 546.8 C242.3 549.1 241.9 551.2 241.7 553.4 C241.6 555.6 241.7 558 242.2 560.1 C242.6 562.2 243.3 564.2 244.2 565.9 C245.1 567.6 246.3 569.3 247.6 570.5 C248.8 571.7 251 572.6 251.7 573 L265.7 582.6"/>
<path class="l" d="M265.7 582.6 C266.1 582.6 266.4 583.1 267.8 583 C269.3 582.9 272 582.7 274.5 582 C277 581.3 280.2 580.1 282.8 578.7 C285.4 577.2 288.4 574.4 290.3 573.3 C292.2 572.1 293.4 572 294 571.8"/>
<path class="n" d="M272.8 582.6 C274.5 582.1 279.8 581 282.8 579.6 C285.9 578.1 289.7 574.9 291.1 573.9"/>
<path class="l" d="M260.9 522.6 C260.1 523.5 257.5 525.8 255.9 527.8 C254.3 529.8 252.7 532.2 251.3 534.7 C250 537.2 248.7 540 247.8 542.6 C246.9 545.2 246.3 547.9 245.9 550.1 C245.5 552.3 245.5 554.5 245.3 555.9 C245.1 557.3 244.8 558 244.7 558.4"/>
<path class="l" d="M261.5 525.6 C260.7 526.5 258.2 528.9 256.7 531 C255.2 533 253.7 535.7 252.6 538 C251.4 540.4 250.4 542.7 249.6 545.1 C248.9 547.5 248.4 550.2 248.2 552.6 C247.9 555 248 558.1 248 559.3"/>
<path class="l" d="M264.5 530.5 C263.7 531.6 261.2 534.5 259.8 536.8 C258.4 539.1 256.9 541.8 255.9 544.3 C254.9 546.8 254.2 549.3 253.6 551.8 C253.1 554.3 252.9 558 252.8 559.3"/>
<path class="l" d="M264.5 519.3 C265.6 518.9 269 517.3 271.3 516.7 C273.5 516 275.9 515.6 277.9 515.3 C280 515.1 282.4 515.2 283.3 515.2"/>
<path class="l" d="M266.3 521.4 C267.4 520.9 270.7 519.3 272.9 518.6 C275.2 518 277.7 517.6 279.6 517.4 C281.5 517.2 283.8 517.4 284.6 517.4"/>
<path class="l" d="M271.7 523.9 C272.6 523.4 275.2 521.5 277.1 520.8 C279 520.1 281.1 519.7 282.9 519.5 C284.7 519.3 287.1 519.7 287.9 519.7"/>
<path class="l" d="M264.5 519.3 L266.3 521.4 L271.7 523.9"/>
<path class="l" d="M284.6 513.1 L293 517.6 L296.9 520 L302.8 523.3 L300.7 524.3"/>
<path class="l" d="M302.8 523.3 C301.5 524.9 297.4 529.7 295.3 532.5 C293.2 535.3 291.1 538.7 290.3 540"/>
<path class="l" d="M300.7 524.3 C299.6 525.7 296.1 529.8 294 532.5 C292 535.2 289.4 539.3 288.5 540.6"/>
<path class="l" d="M287.9 519.7 C287.4 520.6 285.7 523 284.6 524.7 C283.5 526.5 281.8 529.2 281.3 530.1"/>
<path class="f" d="M260.9 522.6 L264.5 519.3 L280 529.7 L277.1 531Z"/>
<path class="f" d="M277.1 531 C277.1 532.3 276.9 536.5 276.9 539.3 C277 542.1 277.2 545.1 277.5 547.6 C277.8 550.1 278.6 553.2 278.8 554.3 L280.9 551.3 280.9 551.3 C280.8 550.7 280.6 549.6 280.4 547.6 C280.3 545.6 279.9 542.3 279.9 539.3 C279.8 536.3 280 531.3 280 529.7Z"/>
<path class="l" d="M261.7 525.6 C262.2 526.5 264 528.4 264.5 531 C264.9 533.5 264.1 538.2 264.5 540.9 C264.8 543.7 266.3 546.5 266.7 547.6"/>
<path class="l" d="M266.7 547.6 L278.8 554.3"/>
<path class="l" d="M266.7 547.6 C266.6 548.4 265.9 551 265.9 552.6 C265.9 554.2 266.3 556 266.7 557.2 C267.1 558.4 268.1 559.3 268.4 559.7"/>
<path class="l" d="M267 552.5 L286.1 563.3"/>
<path class="l" d="M268.2 558.7 L274.5 562.4 L272.4 566.6"/>
<path class="l" d="M279.9 537.3 L289 542.6"/>
<path class="l" d="M280.5 539.8 L294.3 547.8"/>
<path class="n" d="M280.1 538.5 L287.8 543"/>
<path class="l" d="M294.9 535 L306.1 542.1 "/>
<path class="l" d="M306.1 542.1 C306.5 542.5 307.8 543.8 308.3 545 C308.7 546.1 308.5 548.4 308.6 549.1 L307.1 548.7"/>
<path class="l" d="M294 536.4 L304.6 542.6"/>
<path class="l" d="M292.8 538.7 C294.6 539.8 301.2 543.3 303.6 545 C306 546.6 306.7 548.1 307.3 548.7"/>
<path class="n" d="M290.3 540 L298.6 545"/>
<path class="f" d="M294 548.7 C293.3 549.5 291.1 551.5 289.9 553.3 C288.7 555 287.5 557.2 287 559.1 C286.4 561 286.3 563.1 286.5 564.9 C286.8 566.7 287.7 568.6 288.6 569.9 C289.5 571.2 291.4 572.4 292 572.8 L295.3 571.2"/>
<path class="f" d="M294 548.7 C294.9 548.6 297.7 547.7 299.4 547.9 C301.2 548.1 303 548.8 304.4 550 C305.9 551.1 307.3 553.1 308.2 554.9 C309.1 556.8 309.8 559 309.8 560.8 C309.9 562.6 309.4 564.3 308.6 565.8 C307.8 567.2 306.7 568.6 305.3 569.5 C303.9 570.5 301.9 571.1 300.3 571.4 C298.6 571.7 296.1 571.2 295.3 571.2"/>
<path class="l" d="M297.8 550 C297.1 550.6 294.7 552.5 293.6 554.1 C292.5 555.8 291.6 558.1 291.1 559.9 C290.7 561.7 290.7 563.4 290.9 564.9 C291.1 566.5 291.6 568.1 292.4 569.1 C293.1 570.1 294.8 570.8 295.3 571.2"/>
<path class="l" d="M244.7 558.4 L261.7 565.9 L274.5 569.1 L282 574.9 L282.4 576.6 L274.5 573.3 L262 569.1"/>
<path class="n" d="M245.9 560.5 L262.1 568 L273.6 570.9 L281 575.5"/>
<path class="l" d="M274.5 564.9 L289.5 573.3"/>
<path class="l" d="M275.7 563.9 L288.8 571.4"/>
<path class="n" d="M262.1 563.4 L274.6 563.4"/>
<path class="l" d="M245.9 560.5 C246.1 561.4 246.4 564.2 247.2 565.9 C247.9 567.6 249.9 569.7 250.5 570.5"/>
<path class="l" d="M248.8 561.7 C249.1 562.6 249.6 565.2 250.5 566.7 C251.3 568.3 252.9 570.2 253.8 570.9 C254.7 571.6 255.5 571 255.9 571.1"/>
<path class="l" d="M253.4 564.2 C253.7 564.9 254.3 567.2 255.1 568.4 C255.8 569.7 257 571 258 571.7 C258.9 572.4 259.7 572.6 260.9 572.6 C262.1 572.6 264.3 571.9 265 571.7"/>
<path class="n" d="M258 565.9 L265.5 571.7"/>
<path class="n" d="M247.6 570.5 L251.7 569.2 L255.9 571.1"/>
</g>
<g id="p8">
<path class="w" d="M359.1 526.6 C358.4 527.2 356.7 529.3 354.9 530 C353.1 530.6 350.5 530.2 348.2 530.8 C346 531.3 343.5 531.8 341.6 533.3 C339.6 534.8 337.7 537.4 336.6 539.9 C335.5 542.4 335.5 545.8 334.9 548.3 C334.4 550.8 334.4 552.7 333.3 554.9 C332.2 557.1 330.5 558.8 328.3 561.6 C326 564.3 322.4 568 319.9 571.6 C317.5 575.2 315.1 579.3 313.3 583.2 C311.5 587.1 310.1 591 309.1 594.9 C308.2 598.7 308 603.2 307.5 606.5 C306.9 609.8 307.1 612.3 305.8 614.8 C304.6 617.3 301.9 619.3 300 621.5 C298 623.7 295.5 625.6 294.2 628.1 C292.8 630.6 292 634 292 636.5 C292 638.9 293.8 641.7 294.2 642.8 L325.8 659.9 L400 600 L400 530Z"/>
<path class="l" d="M359.1 526.6 C358.4 527.2 356.7 529.3 354.9 530 C353.1 530.6 350.5 530.2 348.2 530.8 C346 531.3 343.5 531.8 341.6 533.3 C339.6 534.8 337.7 537.4 336.6 539.9 C335.5 542.4 335.5 545.8 334.9 548.3 C334.4 550.8 334.4 552.7 333.3 554.9 C332.2 557.1 330.5 558.8 328.3 561.6 C326 564.3 322.4 568 319.9 571.6 C317.5 575.2 315.1 579.3 313.3 583.2 C311.5 587.1 310.1 591 309.1 594.9 C308.2 598.7 308 603.2 307.5 606.5 C306.9 609.8 307.1 612.3 305.8 614.8 C304.6 617.3 301.9 619.3 300 621.5 C298 623.7 295.5 625.6 294.2 628.1 C292.8 630.6 292 634 292 636.5 C292 638.9 293.8 641.7 294.2 642.8 L325.8 659.9"/>
<path class="w" d="M329.9 662.4 L315.8 691.5 L315.8 691.5 C315.5 692.3 314 694.7 314.1 696.5 C314.3 698.3 314.5 700.2 316.6 702.3 C318.7 704.4 322.7 707 326.6 709 C330.5 710.9 336.3 712.9 339.9 714 C343.5 715.1 346.2 715.8 348.2 715.6 C350.3 715.5 351.6 714.2 352.4 713.1 C353.2 712 353.1 709.7 353.2 709 L360 693.1 L370.8 669.8Z"/>
<path class="l" d="M329.9 662.4 L315.8 691.5"/>
<path class="l" d="M370.8 669.8 L352.4 709"/>
<path class="l" d="M315.8 691.5 C315.5 692.3 314 694.7 314.1 696.5 C314.3 698.3 314.5 700.2 316.6 702.3 C318.7 704.4 322.7 707 326.6 709 C330.5 710.9 336.3 712.9 339.9 714 C343.5 715.1 346.2 715.8 348.2 715.6 C350.3 715.5 351.6 714.2 352.4 713.1 C353.2 712 353.1 709.7 353.2 709"/>
<path class="l" d="M316.3 691.2 C317 692.2 318.5 695.2 320.8 697.3 C323.1 699.5 326.5 702 329.9 704 C333.4 705.9 337.8 708 341.6 709 C345.4 709.9 351 709.7 352.9 709.8"/>
<path class="l" d="M315 694.5 C315.6 695.5 316.8 698.6 319.1 700.7 C321.4 702.7 325 705 328.6 706.8 C332.2 708.7 336.8 710.9 340.7 711.8 C344.7 712.7 350.5 712.2 352.4 712.3"/>
<ellipse class="l" cx="366" cy="678.7" rx="2.7" ry="3.4" transform="rotate(30 366 678.7)"/>
<path class="l" d="M342.7 637.2 C343.1 636.1 344.5 632.8 345.4 630.8 C346.3 628.8 347.2 626.9 348.1 625.4 C349 623.9 350 623.5 350.9 621.7 C351.8 619.9 353.1 616.9 353.6 614.5 C354.1 612.1 353.6 609.6 354 607.2 C354.4 604.8 355.2 602.5 356.3 599.9 C357.4 597.3 358.8 594.4 360.8 591.8 C362.8 589.2 365.8 586.2 368.1 584.5 C370.4 582.8 372.5 581.7 374.5 581.3 C376.5 580.9 377.6 580 380 582 C382.4 584 386.6 589.7 389.1 593.3 C391.6 596.8 393.7 599.9 394.9 603.3 C396.2 606.6 396.7 609.9 396.6 613.3 C396.5 616.6 395.2 619.9 394.1 623.2 C393 626.6 391.7 629.1 389.9 633.2 C388.1 637.4 385.8 643.2 383.3 648.2 C380.8 653.2 377 659.6 375 663.2 C372.9 666.8 371.5 668.7 370.8 669.8"/>
<path class="l" d="M361.8 561.8 C361.8 562.7 361.4 565.9 361.9 567.3 C362.3 568.7 363.5 569.5 364.5 570.4 C365.5 571.3 367.5 572.3 368.1 572.7"/>
<path class="l" d="M361.9 567.7 C361.6 568.2 361 569.5 359.9 570.9 C358.8 572.3 357.2 574 355.4 576.3 C353.6 578.6 351.1 581.5 349 584.5 C346.9 587.5 344.6 591 342.7 594.5 C340.8 598 339.1 601.8 337.7 605.4 C336.3 609 335.2 613.3 334.5 616.3 C333.8 619.3 333.9 621.5 333.6 623.5 C333.3 625.5 333.1 626.7 332.7 628.1 C332.2 629.5 332.1 630.4 330.9 631.7 C329.7 633.1 326.3 635.5 325.4 636.2"/>
<path class="l" d="M369 574.5 C368.1 574.8 365.4 575.4 363.6 576.3 C361.8 577.2 360.1 578.2 358.1 580 C356.1 581.8 353.7 584.5 351.8 587.2 C349.9 589.9 348 593.3 346.8 596.3 C345.6 599.3 344.8 602.7 344.5 605.4 C344.2 608.1 344.6 610.2 345 612.6 C345.4 615 346.3 617.9 346.8 619.9 C347.3 621.9 347.9 623.6 348.1 624.4"/>
<path class="l" d="M325.4 636.2 C326.3 635.5 328.8 632 330.9 631.9 C333 631.8 336.2 634.4 338.2 635.3 C340.2 636.2 341.9 636.9 342.7 637.2"/>
<path class="l" d="M396.9 568.5 L389.9 592"/>
<path class="l" d="M401.6 569.2 L393.6 594.5"/>
<path class="l" d="M421.5 564.9 L422.4 578.2"/>
<path class="w" d="M396.6 486.6 C397.4 487.8 398.9 489.6 401.6 493.3 C404.3 497 410.1 504.1 412.9 509.1 C415.7 514.2 416.6 519.8 418.2 523.6 C419.8 527.3 421.1 529.1 422.4 531.6 C423.6 534 424.8 536 425.7 538.2 C426.6 540.4 427.4 542.8 427.9 544.9 C428.3 547 428.7 548.8 428.5 550.7 C428.4 552.7 427.9 554.7 426.9 556.5 C425.8 558.3 424.4 560 422.4 561.5 C420.4 563.1 417.5 564.7 414.9 565.7 C412.3 566.7 409.6 567.4 406.6 567.4 C403.5 567.4 399.4 566.5 396.6 565.7 C393.8 564.9 391.9 564.3 389.9 562.4 C388 560.4 385.8 555.4 384.9 554 L384.9 554 C384.5 553.9 384 553.9 382.4 553.2 C380.9 552.5 378.3 552.1 375.8 549.9 C373.3 547.7 370.1 543.8 367.5 539.9 C364.8 536 361.2 528.8 360 526.6Z"/>
<path class="l" d="M396.6 486.6 C397.4 487.8 398.9 489.6 401.6 493.3 C404.3 497 410.1 504.1 412.9 509.1 C415.7 514.2 416.6 519.8 418.2 523.6 C419.8 527.3 421.1 529.1 422.4 531.6 C423.6 534 424.8 536 425.7 538.2 C426.6 540.4 427.4 542.8 427.9 544.9 C428.3 547 428.7 548.8 428.5 550.7 C428.4 552.7 427.9 554.7 426.9 556.5 C425.8 558.3 424.4 560 422.4 561.5 C420.4 563.1 417.5 564.7 414.9 565.7 C412.3 566.7 409.6 567.4 406.6 567.4 C403.5 567.4 399.4 566.5 396.6 565.7 C393.8 564.9 391 562.9 389.9 562.4"/>
<path class="l" d="M360 526.6 C361.2 528.8 364.8 536 367.5 539.9 C370.1 543.8 373.3 547.7 375.8 549.9 C378.3 552.1 380.9 552.5 382.4 553.2 C384 553.9 384.5 553.9 384.9 554"/>
<path class="l" d="M399.9 528.2 C401.6 530.2 407.5 536.6 409.9 539.9 C412.3 543.2 413.9 545.4 414.1 548.2 C414.2 551 412.5 554.5 410.7 556.5 C408.9 558.6 406.2 560.3 403.2 560.7 C400.3 561.1 396 560 393.3 559 C390.5 558.1 387.7 555.6 386.6 554.9"/>
<path class="l" d="M412.9 509.1 C413.1 510.8 414.4 516.2 414.2 519.1 C414 522 412.8 524.1 411.6 526.6 C410.3 529.1 407.4 532.8 406.6 534.1"/>
<path class="l" d="M427.9 553.2 C428 554.2 428.8 557.3 428.5 559 C428.3 560.8 427.4 562.4 426.2 563.5 C425 564.6 422.3 565.3 421.5 565.7"/>
<path class="f" d="M398.2 511.6 C398.2 513 397.9 517.2 397.9 519.9 C398 522.7 398.8 525.9 398.6 528.2 C398.4 530.6 397.7 532.4 396.6 534.1 C395.4 535.7 393.5 537.3 391.6 538.2 C389.6 539.2 387.3 540 384.9 539.9 C382.6 539.8 379.9 538.8 377.4 537.4 C374.9 536 372.6 533.5 370 531.6 C367.3 529.6 363 526.7 361.6 525.7"/>
<ellipse class="l" cx="388.3" cy="530.2" rx="5.8" ry="4.6" transform="rotate(-20 388.3 530.2)"/>
<path class="f" d="M354.1 507.4 C354.4 504.4 354.8 501.2 356.6 498.3 C358.4 495.4 361.6 492.2 365 490 C368.3 487.7 372.7 485.7 376.6 484.6 C380.5 483.6 384.9 483.3 388.3 483.6 C391.6 484 394.5 485 396.6 486.6 C398.7 488.3 399.9 490.8 400.7 493.3 C401.6 495.8 402 498.6 401.6 501.6 C401.2 504.7 399.9 508.6 398.2 511.6 C396.6 514.7 394.4 517.6 391.6 519.9 C388.8 522.3 385.2 524.5 381.6 525.7 C378 527 373.6 527.7 370 527.4 C366.3 527.1 362.5 525.9 360 524.1 C357.5 522.3 355.9 519.4 355 516.6 C354 513.8 353.9 510.5 354.1 507.4Z"/>
<path class="l" d="M357.5 507.4 C357.8 505.1 358.3 501.8 360 499.1 C361.6 496.5 364.5 493.6 367.5 491.6 C370.4 489.7 374 488.2 377.4 487.5 C380.9 486.7 385.2 486.6 388.3 487.1 C391.3 487.7 394.1 489.1 395.7 490.8 C397.4 492.5 398 495 398.2 497.5 C398.5 500 398.2 503 397.4 505.8 C396.6 508.6 395.2 511.6 393.3 514.1 C391.3 516.6 388.5 519 385.8 520.8 C383 522.5 379.7 524 376.6 524.6 C373.6 525.1 370.1 524.9 367.5 524.1 C364.8 523.3 362.4 521.7 360.8 519.9 C359.2 518.1 358.5 515.3 358 513.3 C357.4 511.2 357.1 509.8 357.5 507.4Z"/>
<path class="f" d="M371.8 573 L370.5 572.3 M370.5 572.3 C370.3 572.1 369.8 571.8 369.6 571.5 C369.3 571.2 369 570.8 368.8 570.4 C368.6 570 368.5 569.6 368.3 569.1 C368.2 568.6 368.1 568.1 368.1 567.6 C368.1 567 368.1 566.4 368.1 565.8 C368.2 565.2 368.3 564.6 368.4 564 C368.5 563.3 368.7 562.7 368.9 562 C369.2 561.4 369.4 560.7 369.7 560.1 C370 559.4 370.3 558.8 370.7 558.2 C371 557.6 371.4 556.9 371.8 556.4 C372.2 555.8 372.7 555.2 373.1 554.7 C373.6 554.2 374.1 553.7 374.6 553.3 C375 552.9 375.5 552.5 376 552.1 C376.5 551.8 377 551.5 377.5 551.2 C378 551 378.5 550.8 379 550.7 C379.5 550.5 379.9 550.4 380.4 550.4 C380.8 550.4 381.3 550.4 381.7 550.5 C382.1 550.6 382.6 550.9 382.8 551 M382.8 551 L384.1 551.7"/>
<ellipse class="f" cx="377.9" cy="562.4" rx="7.6" ry="12.3" transform="rotate(30 377.9 562.4)"/>
<ellipse class="l" cx="377.9" cy="562.4" rx="3.9" ry="6.3" transform="rotate(30 377.9 562.4)"/>
<path class="f" d="M415.3 606.4 L411.4 604.2 M411.4 604.2 C411.2 604 410.6 603.6 410.3 603.3 C410 602.9 409.7 602.5 409.5 602.1 C409.2 601.6 409 601.1 408.9 600.5 C408.8 600 408.7 599.4 408.6 598.7 C408.6 598.1 408.6 597.4 408.7 596.7 C408.7 596 408.8 595.3 409 594.6 C409.1 593.8 409.3 593.1 409.6 592.3 C409.8 591.6 410.1 590.8 410.5 590.1 C410.8 589.3 411.2 588.6 411.6 587.9 C412 587.2 412.5 586.5 412.9 585.8 C413.4 585.2 413.9 584.5 414.5 583.9 C415 583.3 415.5 582.8 416.1 582.3 C416.6 581.8 417.2 581.3 417.8 580.9 C418.4 580.5 418.9 580.2 419.5 579.9 C420.1 579.6 420.6 579.4 421.2 579.2 C421.8 579.1 422.3 579 422.8 578.9 C423.3 578.9 423.8 579 424.3 579.1 C424.8 579.2 425.4 579.5 425.6 579.6 M425.6 579.6 L429.5 581.8"/>
<ellipse class="f" cx="422.4" cy="594.1" rx="8.8" ry="14.2" transform="rotate(30 422.4 594.1)"/>
<ellipse class="l" cx="422.4" cy="594.1" rx="4" ry="6.4" transform="rotate(30 422.4 594.1)"/>
<path class="f" d="M328.5 660.8 L327.6 660.3 M327.6 660.3 C327.5 660.1 326.9 659.8 326.6 659.4 C326.3 659.1 326 658.7 325.8 658.3 C325.6 657.8 325.4 657.3 325.3 656.8 C325.1 656.3 325.1 655.7 325 655.1 C325 654.5 325 653.8 325 653.2 C325.1 652.5 325.2 651.8 325.3 651.1 C325.5 650.4 325.7 649.7 325.9 649 C326.2 648.3 326.5 647.6 326.8 646.9 C327.1 646.2 327.5 645.5 327.8 644.8 C328.2 644.1 328.7 643.4 329.1 642.8 C329.6 642.2 330.1 641.6 330.5 641 C331 640.5 331.6 639.9 332.1 639.4 C332.6 639 333.2 638.5 333.7 638.2 C334.3 637.8 334.8 637.4 335.4 637.2 C335.9 636.9 336.4 636.7 337 636.5 C337.5 636.4 338 636.3 338.5 636.3 C339 636.3 339.5 636.3 339.9 636.4 C340.3 636.5 340.9 636.8 341.1 636.9 M341.1 636.9 L342 637.4"/>
<ellipse class="f" cx="335.3" cy="649.1" rx="8.4" ry="13.5" transform="rotate(30 335.3 649.1)"/>
<ellipse class="l" cx="335.3" cy="649.1" rx="3.9" ry="6.3" transform="rotate(30 335.3 649.1)"/>
<path class="l" d="M414.8 606.4 L405.8 623.9"/>
<path class="l" d="M396.5 611.6 C397.4 612 400.7 612.6 402.1 613.8 C403.6 615 404.8 616.6 405.2 618.6 C405.6 620.6 405.4 623.5 404.7 626 C404 628.5 402.5 631.4 401 633.4 C399.5 635.4 397.5 636.8 395.7 637.7 C393.9 638.6 391.8 638.9 390.4 638.7 C389 638.6 387.7 637.1 387.2 636.8"/>
<ellipse class="l" cx="396.8" cy="627" rx="4" ry="6.5" transform="rotate(30 396.8 627)"/>
<path class="l" d="M393.6 639 C392.7 640 390 643.6 388.3 645.1 C386.6 646.6 384.3 647.7 383.5 648.2"/>
<path class="l" d="M381.9 647.7 C382.2 648.3 383.5 649.7 383.5 651.4 C383.5 653.1 382.9 655.7 381.9 657.8 C380.9 659.9 379.3 662.3 377.7 664.1 C376.1 665.9 373.3 667.7 372.4 668.4"/>
<path class="n" d="M380.9 649.8 L375.5 661"/>
</g>
<g id="p12">
<path class="f" d="M422.1 654.5 C421.9 654.5 421.4 654.3 421 654.1 C420.7 653.9 420.4 653.7 420.1 653.4 C419.9 653.1 419.6 652.8 419.5 652.4 C419.3 652 419.1 651.6 419 651.1 C418.9 650.7 418.8 650.2 418.8 649.7 C418.7 649.2 418.7 648.6 418.8 648 C418.8 647.5 418.9 646.9 419.1 646.3 C419.2 645.7 419.4 645.1 419.6 644.5 C419.8 643.8 420 643.2 420.3 642.6 C420.6 642 420.9 641.4 421.2 640.8 C421.5 640.2 421.9 639.7 422.3 639.1 C422.7 638.6 423.1 638.1 423.5 637.6 C424 637.1 424.4 636.6 424.9 636.2 C425.3 635.8 425.8 635.5 426.2 635.1 C426.7 634.8 427.2 634.5 427.7 634.3 C428.1 634.1 428.6 633.9 429 633.7 C429.5 633.6 429.9 633.5 430.4 633.5 C430.8 633.5 431.2 633.5 431.6 633.6 C431.9 633.7 432.3 633.8 432.6 634 C433 634.2 433.3 634.5 433.5 634.7 C433.8 635 434.1 635.6 434.2 635.7"/>
<ellipse class="f" cx="428.2" cy="644.9" rx="7.2" ry="11.6" transform="rotate(30 428.2 644.9)"/>
<ellipse class="l" cx="428.2" cy="644.9" rx="4" ry="6.4" transform="rotate(30 428.2 644.9)" style="stroke-width:1.6"/>
</g>
<g id="bolts">
<g>
<path class="w" d="M446.3 576 C446.2 575.9 445.9 575.7 445.8 575.5 C445.6 575.3 445.5 575.1 445.5 574.8 C445.4 574.5 445.4 574.2 445.4 573.8 C445.4 573.5 445.4 573.1 445.5 572.7 C445.6 572.4 445.7 572 445.8 571.6 C446 571.2 446.2 570.8 446.4 570.4 C446.6 570 446.8 569.6 447 569.3 C447.3 569 447.6 568.7 447.8 568.4 C448.1 568.1 448.4 567.9 448.7 567.7 C449 567.5 449.2 567.3 449.5 567.2 C449.8 567.1 450.1 567.1 450.3 567.1 C450.5 567.1 450.9 567.2 451 567.3 L500.4 593.7 L495.7 602.4Z"/>
<path class="l" d="M446.3 576 C446.2 575.9 445.9 575.7 445.8 575.5 C445.6 575.3 445.5 575.1 445.5 574.8 C445.4 574.5 445.4 574.2 445.4 573.8 C445.4 573.5 445.4 573.1 445.5 572.7 C445.6 572.4 445.7 572 445.8 571.6 C446 571.2 446.2 570.8 446.4 570.4 C446.6 570 446.8 569.6 447 569.3 C447.3 569 447.6 568.7 447.8 568.4 C448.1 568.1 448.4 567.9 448.7 567.7 C449 567.5 449.2 567.3 449.5 567.2 C449.8 567.1 450.1 567.1 450.3 567.1 C450.5 567.1 450.9 567.2 451 567.3"/>
<path class="l" d="M469.6 577.2 L500.4 593.7"/>
<path class="l" d="M464.9 586 L495.7 602.4"/>
<path class="n" d="M451.4 567.5 L469.6 577.2"/>
<path class="n" d="M446.7 576.2 L464.9 586"/>
<path class="l" d="M448.6 577.5 C448.5 577.4 448.3 577.2 448.2 577.1 C448.1 576.9 448 576.7 447.9 576.5 C447.8 576.3 447.8 576 447.8 575.7 C447.7 575.5 447.7 575.2 447.8 574.9 C447.8 574.6 447.9 574.2 447.9 573.9 C448 573.6 448.1 573.3 448.2 572.9 C448.4 572.6 448.5 572.3 448.7 571.9 C448.8 571.6 449 571.3 449.2 571 C449.4 570.7 449.6 570.4 449.8 570.1 C450.1 569.9 450.3 569.6 450.5 569.4 C450.8 569.2 451 569 451.2 568.8 C451.5 568.7 451.7 568.5 451.9 568.4 C452.2 568.3 452.4 568.3 452.6 568.2 C452.8 568.2 453.1 568.3 453.2 568.3" style="stroke-width:1.75"/>
<path class="l" d="M452.2 579.4 C452.1 579.4 451.9 579.2 451.8 579 C451.7 578.8 451.6 578.6 451.5 578.4 C451.4 578.2 451.4 577.9 451.4 577.7 C451.4 577.4 451.4 577.1 451.4 576.8 C451.4 576.5 451.5 576.2 451.6 575.9 C451.6 575.5 451.7 575.2 451.9 574.9 C452 574.5 452.1 574.2 452.3 573.9 C452.4 573.6 452.6 573.2 452.8 572.9 C453 572.6 453.2 572.4 453.4 572.1 C453.7 571.8 453.9 571.6 454.1 571.4 C454.4 571.1 454.6 570.9 454.8 570.8 C455.1 570.6 455.3 570.5 455.6 570.4 C455.8 570.3 456 570.2 456.2 570.2 C456.4 570.2 456.7 570.2 456.8 570.2" style="stroke-width:1.75"/>
<path class="l" d="M455.8 581.4 C455.8 581.3 455.5 581.1 455.4 581 C455.3 580.8 455.2 580.6 455.1 580.4 C455.1 580.1 455 579.9 455 579.6 C455 579.3 455 579.1 455 578.8 C455 578.4 455.1 578.1 455.2 577.8 C455.2 577.5 455.3 577.1 455.5 576.8 C455.6 576.5 455.7 576.1 455.9 575.8 C456.1 575.5 456.2 575.2 456.4 574.9 C456.6 574.6 456.8 574.3 457.1 574 C457.3 573.8 457.5 573.5 457.7 573.3 C458 573.1 458.2 572.9 458.5 572.7 C458.7 572.6 458.9 572.4 459.2 572.3 C459.4 572.2 459.6 572.2 459.8 572.1 C460.1 572.1 460.4 572.1 460.5 572.1" style="stroke-width:1.75"/>
<path class="l" d="M459.4 583.3 C459.4 583.2 459.1 583.1 459 582.9 C458.9 582.7 458.8 582.5 458.7 582.3 C458.7 582.1 458.6 581.8 458.6 581.6 C458.6 581.3 458.6 581 458.6 580.7 C458.6 580.4 458.7 580.1 458.8 579.7 C458.9 579.4 459 579.1 459.1 578.8 C459.2 578.4 459.3 578.1 459.5 577.8 C459.7 577.4 459.9 577.1 460 576.8 C460.2 576.5 460.5 576.2 460.7 576 C460.9 575.7 461.1 575.5 461.4 575.2 C461.6 575 461.8 574.8 462.1 574.7 C462.3 574.5 462.5 574.4 462.8 574.3 C463 574.2 463.2 574.1 463.5 574.1 C463.7 574 464 574.1 464.1 574.1" style="stroke-width:1.75"/>
<path class="l" d="M463 585.2 C463 585.2 462.8 585 462.6 584.8 C462.5 584.7 462.4 584.5 462.4 584.2 C462.3 584 462.2 583.8 462.2 583.5 C462.2 583.2 462.2 582.9 462.2 582.6 C462.3 582.3 462.3 582 462.4 581.7 C462.5 581.4 462.6 581 462.7 580.7 C462.8 580.4 463 580 463.1 579.7 C463.3 579.4 463.5 579.1 463.7 578.8 C463.9 578.5 464.1 578.2 464.3 577.9 C464.5 577.6 464.7 577.4 465 577.2 C465.2 577 465.4 576.8 465.7 576.6 C465.9 576.4 466.2 576.3 466.4 576.2 C466.6 576.1 466.9 576 467.1 576 C467.3 576 467.6 576 467.7 576" style="stroke-width:1.75"/>
<path class="f" d="M507.2 587.4 C507.6 587.6 508.1 588 508.4 588.3 C508.8 588.7 509.1 589.1 509.4 589.6 C509.7 590 509.9 590.6 510.1 591.2 C510.3 591.7 510.4 592.4 510.5 593 C510.6 593.7 510.6 594.4 510.6 595.1 C510.6 595.8 510.5 596.5 510.4 597.3 C510.3 598 510.1 598.8 509.9 599.6 C509.7 600.4 509.4 601.2 509.1 601.9 C508.8 602.7 508.4 603.5 508 604.2 C507.6 604.9 507.2 605.6 506.7 606.3 C506.3 607 505.7 607.7 505.2 608.3 C504.7 608.9 504.2 609.5 503.6 610 C503 610.5 502.4 611 501.9 611.4 C501.3 611.8 500.7 612.2 500.1 612.4 C499.5 612.7 498.9 613 498.3 613.1 C497.7 613.3 497.2 613.4 496.6 613.4 C496.1 613.4 495.5 613.4 495 613.3 C494.5 613.2 494 613 493.6 612.8 C493.2 612.6 492.7 612.2 492.4 611.9 C492 611.5 491.7 611.1 491.4 610.6 C491.1 610.2 490.9 609.6 490.7 609 C490.5 608.5 490.4 607.8 490.3 607.2 C490.2 606.5 490.2 605.8 490.2 605.1 C490.2 604.4 490.3 603.7 490.4 602.9 C490.5 602.2 490.7 601.4 490.9 600.6 C491.1 599.8 491.4 599 491.7 598.3 C492 597.5 492.4 596.7 492.8 596 C493.2 595.3 493.6 594.6 494.1 593.9 C494.5 593.2 495.1 592.5 495.6 591.9 C496.1 591.3 496.6 590.7 497.2 590.2 C497.8 589.7 498.4 589.2 498.9 588.8 C499.5 588.4 500.1 588 500.7 587.8 C501.3 587.5 501.9 587.2 502.5 587.1 C503.1 586.9 503.6 586.8 504.2 586.8 C504.7 586.8 505.3 586.8 505.8 586.9 C506.3 587 506.8 587.2 507.2 587.4Z"/>
<path class="l" d="M499.6 610.8 C499.3 610.8 498.6 611 498.2 611 C497.8 611 497.4 611 497 610.9 C496.6 610.8 496.2 610.7 495.8 610.5 C495.5 610.3 495.2 610.1 494.9 609.8 C494.6 609.5 494.3 609.2 494.1 608.8 C493.9 608.4 493.7 608 493.6 607.5 C493.4 607.1 493.3 606.6 493.3 606.1 C493.2 605.6 493.2 605 493.2 604.5 C493.2 603.9 493.3 603.3 493.3 602.7 C493.4 602.1 493.6 601.5 493.8 600.9 C493.9 600.3 494.1 599.7 494.4 599.1 C494.6 598.5 494.9 597.9 495.2 597.3 C495.5 596.7 495.9 596.2 496.2 595.6 C496.6 595.1 497 594.6 497.4 594.1 C497.8 593.6 498.3 593.2 498.7 592.8 C499.1 592.4 499.6 592 500.1 591.7 C500.5 591.3 501 591.1 501.4 590.8 C501.9 590.6 502.4 590.4 502.8 590.3 C503.3 590.2 503.7 590.1 504.2 590.1 C504.6 590 505 590.1 505.4 590.2 C505.8 590.2 506.2 590.4 506.5 590.6 C506.9 590.8 507.2 591 507.5 591.3 C507.8 591.6 508.1 592.1 508.3 592.3"/>
<path class="f" d="M510.1 593.9 C510.4 594.1 510.7 594.3 510.9 594.6 C511.2 594.8 511.4 595.1 511.6 595.5 C511.8 595.8 512 596.2 512.2 596.6 C512.3 597 512.4 597.4 512.5 597.9 C512.5 598.3 512.6 598.8 512.6 599.3 C512.6 599.8 512.5 600.4 512.4 600.9 C512.4 601.4 512.2 602 512.1 602.5 C511.9 603 511.8 603.6 511.5 604.1 C511.3 604.6 511.1 605.2 510.8 605.7 C510.5 606.2 510.2 606.7 509.9 607.2 C509.6 607.6 509.2 608.1 508.9 608.5 C508.5 608.9 508.1 609.3 507.7 609.7 C507.3 610 506.9 610.4 506.5 610.7 C506.1 610.9 505.6 611.2 505.2 611.4 C504.8 611.6 504.4 611.7 504 611.8 C503.6 612 503.2 612 502.8 612 C502.4 612 502 612 501.6 611.9 C501.3 611.9 500.9 611.7 500.6 611.6 C500.3 611.4 500 611.2 499.7 610.9 C499.5 610.7 499.2 610.4 499 610 C498.8 609.7 498.6 609.3 498.5 608.9 C498.4 608.5 498.3 608.1 498.2 607.6 C498.1 607.2 498.1 606.7 498.1 606.2 C498.1 605.7 498.2 605.1 498.2 604.6 C498.3 604.1 498.4 603.5 498.6 603 C498.7 602.5 498.9 601.9 499.1 601.4 C499.3 600.9 499.6 600.3 499.9 599.8 C500.1 599.3 500.5 598.8 500.8 598.3 C501.1 597.9 501.5 597.4 501.8 597 C502.2 596.6 502.6 596.2 503 595.8 C503.4 595.4 503.8 595.1 504.2 594.8 C504.6 594.6 505 594.3 505.4 594.1 C505.9 593.9 506.3 593.8 506.7 593.7 C507.1 593.5 507.5 593.5 507.9 593.5 C508.3 593.5 508.7 593.5 509 593.6 C509.4 593.6 509.7 593.8 510.1 593.9Z"/>
<path class="l" d="M501.7 590.7 L504.9 594.4"/>
<path class="l" d="M493.2 604.1 L498.3 604.3"/>
<path class="l" d="M510.1 593.9 L506.5 590.6"/>
<path class="l" d="M500.6 611.6 L495.5 610.3"/>
</g>
<g>
<path class="w" d="M438.1 656.7 C438 656.6 437.7 656.4 437.6 656.2 C437.5 656 437.3 655.8 437.3 655.5 C437.2 655.2 437.2 654.9 437.1 654.6 C437.1 654.2 437.2 653.8 437.2 653.5 C437.3 653.1 437.4 652.7 437.5 652.3 C437.7 651.9 437.8 651.5 438 651.1 C438.2 650.7 438.5 650.3 438.7 650 C438.9 649.6 439.2 649.3 439.5 649 C439.7 648.7 440 648.5 440.3 648.3 C440.6 648.1 440.8 647.9 441.1 647.8 C441.4 647.7 441.6 647.7 441.9 647.7 C442.1 647.7 442.4 647.8 442.6 647.8 L463.9 658.4 L459.5 667.3Z"/>
<path class="l" d="M438.1 656.7 C438 656.6 437.7 656.4 437.6 656.2 C437.5 656 437.3 655.8 437.3 655.5 C437.2 655.2 437.2 654.9 437.1 654.6 C437.1 654.2 437.2 653.8 437.2 653.5 C437.3 653.1 437.4 652.7 437.5 652.3 C437.7 651.9 437.8 651.5 438 651.1 C438.2 650.7 438.5 650.3 438.7 650 C438.9 649.6 439.2 649.3 439.5 649 C439.7 648.7 440 648.5 440.3 648.3 C440.6 648.1 440.8 647.9 441.1 647.8 C441.4 647.7 441.6 647.7 441.9 647.7 C442.1 647.7 442.4 647.8 442.6 647.8"/>
<path class="l" d="M457.8 655.4 L463.9 658.4"/>
<path class="l" d="M453.3 664.3 L459.5 667.3"/>
<path class="n" d="M443 648 L457.8 655.4"/>
<path class="n" d="M438.6 656.9 L453.3 664.3"/>
<path class="l" d="M440.5 658.1 C440.4 658 440.2 657.9 440.1 657.7 C439.9 657.5 439.8 657.3 439.8 657.1 C439.7 656.9 439.6 656.7 439.6 656.4 C439.6 656.1 439.6 655.8 439.6 655.5 C439.6 655.2 439.7 654.9 439.7 654.6 C439.8 654.2 439.9 653.9 440 653.6 C440.1 653.2 440.2 652.9 440.4 652.6 C440.5 652.2 440.7 651.9 440.9 651.6 C441.1 651.3 441.3 651 441.5 650.7 C441.7 650.5 441.9 650.2 442.2 650 C442.4 649.8 442.6 649.6 442.9 649.4 C443.1 649.2 443.3 649.1 443.6 649 C443.8 648.9 444 648.8 444.2 648.8 C444.5 648.7 444.7 648.8 444.9 648.8" style="stroke-width:1.75"/>
<path class="l" d="M444.2 659.9 C444.1 659.9 443.8 659.7 443.7 659.5 C443.6 659.4 443.5 659.2 443.4 659 C443.4 658.7 443.3 658.5 443.3 658.2 C443.2 658 443.2 657.7 443.3 657.4 C443.3 657.1 443.3 656.7 443.4 656.4 C443.5 656.1 443.5 655.7 443.7 655.4 C443.8 655.1 443.9 654.7 444.1 654.4 C444.2 654.1 444.4 653.8 444.6 653.4 C444.8 653.1 445 652.8 445.2 652.6 C445.4 652.3 445.6 652 445.8 651.8 C446.1 651.6 446.3 651.4 446.5 651.2 C446.8 651.1 447 650.9 447.2 650.8 C447.5 650.7 447.7 650.6 447.9 650.6 C448.1 650.6 448.4 650.6 448.5 650.6" style="stroke-width:1.75"/>
<path class="l" d="M447.8 661.8 C447.7 661.7 447.5 661.5 447.4 661.4 C447.3 661.2 447.2 661 447.1 660.8 C447 660.6 447 660.3 446.9 660.1 C446.9 659.8 446.9 659.5 446.9 659.2 C446.9 658.9 447 658.6 447.1 658.2 C447.1 657.9 447.2 657.6 447.3 657.2 C447.4 656.9 447.6 656.6 447.7 656.2 C447.9 655.9 448.1 655.6 448.2 655.3 C448.4 655 448.6 654.7 448.8 654.4 C449.1 654.1 449.3 653.9 449.5 653.7 C449.7 653.4 450 653.2 450.2 653.1 C450.4 652.9 450.7 652.7 450.9 652.6 C451.1 652.5 451.4 652.5 451.6 652.4 C451.8 652.4 452.1 652.4 452.2 652.4" style="stroke-width:1.75"/>
<path class="l" d="M451.5 663.6 C451.4 663.5 451.2 663.4 451.1 663.2 C450.9 663 450.8 662.9 450.8 662.6 C450.7 662.4 450.6 662.2 450.6 661.9 C450.6 661.6 450.6 661.3 450.6 661 C450.6 660.7 450.7 660.4 450.7 660.1 C450.8 659.7 450.9 659.4 451 659.1 C451.1 658.7 451.2 658.4 451.4 658.1 C451.5 657.7 451.7 657.4 451.9 657.1 C452.1 656.8 452.3 656.5 452.5 656.2 C452.7 656 452.9 655.7 453.2 655.5 C453.4 655.3 453.6 655.1 453.9 654.9 C454.1 654.7 454.3 654.6 454.6 654.5 C454.8 654.4 455 654.3 455.2 654.3 C455.5 654.2 455.8 654.3 455.9 654.3" style="stroke-width:1.75"/>
<path class="f" d="M470.5 651.9 C471 652.1 471.4 652.4 471.8 652.8 C472.2 653.1 472.5 653.6 472.8 654 C473.1 654.5 473.3 655 473.5 655.6 C473.7 656.1 473.9 656.8 474 657.4 C474.1 658.1 474.2 658.8 474.2 659.5 C474.2 660.2 474.1 660.9 474 661.7 C473.9 662.5 473.8 663.2 473.6 664 C473.4 664.8 473.1 665.6 472.8 666.4 C472.5 667.1 472.2 667.9 471.8 668.7 C471.5 669.4 471 670.1 470.6 670.8 C470.1 671.5 469.7 672.2 469.2 672.8 C468.7 673.5 468.1 674.1 467.6 674.6 C467 675.1 466.5 675.6 465.9 676 C465.3 676.5 464.7 676.8 464.1 677.2 C463.6 677.5 463 677.7 462.4 677.9 C461.8 678.1 461.2 678.2 460.7 678.2 C460.1 678.3 459.6 678.2 459.1 678.2 C458.6 678.1 458.1 677.9 457.7 677.7 C457.2 677.5 456.8 677.2 456.4 676.8 C456 676.5 455.7 676 455.4 675.6 C455.1 675.1 454.9 674.6 454.7 674 C454.5 673.5 454.3 672.8 454.2 672.2 C454.1 671.5 454 670.8 454 670.1 C454 669.4 454.1 668.7 454.2 667.9 C454.3 667.1 454.4 666.4 454.6 665.6 C454.8 664.8 455.1 664 455.4 663.2 C455.7 662.5 456 661.7 456.4 660.9 C456.7 660.2 457.2 659.5 457.6 658.8 C458.1 658.1 458.5 657.4 459 656.8 C459.5 656.1 460.1 655.5 460.6 655 C461.2 654.5 461.7 654 462.3 653.6 C462.9 653.1 463.5 652.8 464.1 652.4 C464.6 652.1 465.2 651.9 465.8 651.7 C466.4 651.5 467 651.4 467.5 651.4 C468.1 651.3 468.6 651.4 469.1 651.4 C469.6 651.5 470.1 651.7 470.5 651.9Z"/>
<path class="l" d="M463.6 675.5 C463.3 675.5 462.7 675.7 462.2 675.7 C461.8 675.8 461.4 675.8 461 675.7 C460.6 675.6 460.2 675.5 459.9 675.3 C459.5 675.1 459.2 674.9 458.9 674.6 C458.6 674.4 458.3 674 458.1 673.7 C457.9 673.3 457.7 672.9 457.5 672.4 C457.3 672 457.2 671.5 457.1 671 C457.1 670.5 457 669.9 457 669.4 C457 668.8 457 668.2 457.1 667.6 C457.2 667 457.3 666.4 457.5 665.8 C457.6 665.2 457.8 664.6 458.1 664 C458.3 663.4 458.5 662.8 458.8 662.2 C459.1 661.6 459.5 661 459.8 660.5 C460.2 659.9 460.5 659.4 460.9 658.9 C461.3 658.4 461.8 657.9 462.2 657.5 C462.6 657.1 463.1 656.7 463.5 656.4 C464 656 464.4 655.8 464.9 655.5 C465.3 655.3 465.8 655.1 466.2 654.9 C466.7 654.8 467.1 654.7 467.6 654.7 C468 654.6 468.4 654.7 468.8 654.7 C469.2 654.8 469.6 654.9 470 655.1 C470.3 655.3 470.6 655.5 470.9 655.8 C471.2 656 471.6 656.6 471.7 656.7"/>
<path class="f" d="M473.6 658.4 C473.9 658.5 474.2 658.7 474.5 659 C474.7 659.2 475 659.5 475.2 659.8 C475.4 660.2 475.6 660.5 475.8 660.9 C475.9 661.3 476 661.8 476.1 662.2 C476.2 662.7 476.2 663.2 476.2 663.7 C476.2 664.2 476.2 664.7 476.1 665.2 C476.1 665.8 476 666.3 475.8 666.9 C475.7 667.4 475.5 667.9 475.3 668.5 C475.1 669 474.9 669.6 474.7 670.1 C474.4 670.6 474.1 671.1 473.8 671.6 C473.5 672.1 473.1 672.5 472.8 673 C472.4 673.4 472.1 673.8 471.7 674.2 C471.3 674.5 470.9 674.9 470.5 675.2 C470.1 675.5 469.7 675.7 469.2 675.9 C468.8 676.1 468.4 676.3 468 676.4 C467.6 676.6 467.2 676.6 466.8 676.7 C466.4 676.7 466 676.7 465.7 676.6 C465.3 676.5 465 676.4 464.6 676.2 C464.3 676.1 464 675.9 463.7 675.6 C463.5 675.4 463.2 675.1 463 674.8 C462.8 674.4 462.6 674.1 462.5 673.7 C462.3 673.3 462.2 672.8 462.1 672.4 C462 671.9 462 671.4 462 670.9 C462 670.4 462 669.9 462.1 669.4 C462.1 668.8 462.2 668.3 462.4 667.8 C462.5 667.2 462.7 666.7 462.9 666.1 C463.1 665.6 463.3 665 463.6 664.5 C463.8 664 464.1 663.5 464.4 663 C464.7 662.5 465.1 662.1 465.4 661.6 C465.8 661.2 466.2 660.8 466.5 660.4 C466.9 660.1 467.3 659.7 467.7 659.4 C468.1 659.1 468.6 658.9 469 658.7 C469.4 658.5 469.8 658.3 470.2 658.2 C470.6 658.1 471 658 471.4 658 C471.8 657.9 472.2 657.9 472.6 658 C472.9 658.1 473.3 658.2 473.6 658.4Z"/>
<path class="l" d="M465.2 655.4 L468.5 658.9"/>
<path class="l" d="M457 669 L462.1 669.1"/>
<path class="l" d="M473.6 658.4 L470 655.1"/>
<path class="l" d="M464.6 676.2 L459.5 675.1"/>
</g>
<g>
<path class="w" d="M519.4 655.9 C519.3 655.8 519 655.6 518.9 655.4 C518.8 655.2 518.7 655 518.6 654.7 C518.5 654.4 518.5 654.1 518.5 653.7 C518.5 653.4 518.6 653 518.7 652.6 C518.7 652.3 518.9 651.9 519 651.5 C519.2 651.1 519.4 650.7 519.6 650.3 C519.8 649.9 520 649.6 520.3 649.2 C520.5 648.9 520.8 648.6 521.1 648.3 C521.3 648 521.6 647.8 521.9 647.6 C522.2 647.4 522.5 647.3 522.8 647.2 C523 647.1 523.3 647 523.6 647.1 C523.8 647.1 524.1 647.2 524.2 647.2 L590.8 684.3 L586 692.9Z"/>
<path class="l" d="M519.4 655.9 C519.3 655.8 519 655.6 518.9 655.4 C518.8 655.2 518.7 655 518.6 654.7 C518.5 654.4 518.5 654.1 518.5 653.7 C518.5 653.4 518.6 653 518.7 652.6 C518.7 652.3 518.9 651.9 519 651.5 C519.2 651.1 519.4 650.7 519.6 650.3 C519.8 649.9 520 649.6 520.3 649.2 C520.5 648.9 520.8 648.6 521.1 648.3 C521.3 648 521.6 647.8 521.9 647.6 C522.2 647.4 522.5 647.3 522.8 647.2 C523 647.1 523.3 647 523.6 647.1 C523.8 647.1 524.1 647.2 524.2 647.2"/>
<path class="l" d="M546.2 659.5 L590.8 684.3"/>
<path class="l" d="M541.4 668.2 L586 692.9"/>
<path class="n" d="M524.7 647.5 L546.2 659.5"/>
<path class="n" d="M519.8 656.1 L541.4 668.2"/>
<path class="l" d="M521.7 657.4 C521.6 657.4 521.4 657.2 521.3 657 C521.2 656.8 521.1 656.6 521 656.4 C520.9 656.2 520.9 655.9 520.9 655.7 C520.9 655.4 520.9 655.1 520.9 654.8 C520.9 654.5 521 654.2 521.1 653.9 C521.2 653.5 521.3 653.2 521.4 652.9 C521.5 652.5 521.7 652.2 521.9 651.9 C522 651.6 522.2 651.3 522.4 651 C522.6 650.7 522.8 650.4 523 650.1 C523.3 649.8 523.5 649.6 523.7 649.4 C524 649.2 524.2 649 524.5 648.8 C524.7 648.7 524.9 648.5 525.2 648.4 C525.4 648.3 525.6 648.3 525.9 648.3 C526.1 648.2 526.4 648.3 526.5 648.3" style="stroke-width:1.75"/>
<path class="l" d="M525.3 659.4 C525.2 659.4 525 659.2 524.9 659 C524.8 658.8 524.7 658.6 524.6 658.4 C524.5 658.2 524.5 657.9 524.5 657.7 C524.5 657.4 524.5 657.1 524.5 656.8 C524.5 656.5 524.6 656.2 524.7 655.9 C524.8 655.5 524.9 655.2 525 654.9 C525.1 654.5 525.3 654.2 525.4 653.9 C525.6 653.6 525.8 653.3 526 653 C526.2 652.7 526.4 652.4 526.6 652.1 C526.9 651.8 527.1 651.6 527.3 651.4 C527.6 651.2 527.8 651 528 650.8 C528.3 650.7 528.5 650.5 528.8 650.4 C529 650.3 529.2 650.3 529.4 650.3 C529.7 650.2 530 650.3 530.1 650.3" style="stroke-width:1.75"/>
<path class="l" d="M528.9 661.4 C528.8 661.4 528.6 661.2 528.4 661 C528.3 660.8 528.2 660.6 528.2 660.4 C528.1 660.2 528.1 659.9 528.1 659.7 C528 659.4 528 659.1 528.1 658.8 C528.1 658.5 528.2 658.2 528.3 657.9 C528.3 657.5 528.4 657.2 528.6 656.9 C528.7 656.5 528.8 656.2 529 655.9 C529.2 655.6 529.4 655.2 529.6 655 C529.8 654.7 530 654.4 530.2 654.1 C530.4 653.8 530.7 653.6 530.9 653.4 C531.1 653.2 531.4 653 531.6 652.8 C531.9 652.7 532.1 652.5 532.3 652.4 C532.6 652.3 532.8 652.3 533 652.3 C533.2 652.2 533.5 652.3 533.6 652.3" style="stroke-width:1.75"/>
<path class="l" d="M532.4 663.4 C532.4 663.4 532.1 663.2 532 663 C531.9 662.8 531.8 662.6 531.8 662.4 C531.7 662.2 531.6 661.9 531.6 661.7 C531.6 661.4 531.6 661.1 531.7 660.8 C531.7 660.5 531.7 660.2 531.8 659.8 C531.9 659.5 532 659.2 532.1 658.9 C532.3 658.5 532.4 658.2 532.6 657.9 C532.8 657.6 533 657.2 533.1 656.9 C533.3 656.7 533.6 656.4 533.8 656.1 C534 655.8 534.2 655.6 534.5 655.4 C534.7 655.2 535 655 535.2 654.8 C535.4 654.7 535.7 654.5 535.9 654.4 C536.2 654.3 536.4 654.3 536.6 654.2 C536.8 654.2 537.1 654.3 537.2 654.3" style="stroke-width:1.75"/>
<path class="l" d="M536 665.4 C535.9 665.4 535.7 665.2 535.6 665 C535.5 664.8 535.4 664.6 535.3 664.4 C535.3 664.2 535.2 663.9 535.2 663.7 C535.2 663.4 535.2 663.1 535.2 662.8 C535.3 662.5 535.3 662.2 535.4 661.8 C535.5 661.5 535.6 661.2 535.7 660.9 C535.9 660.5 536 660.2 536.2 659.9 C536.3 659.6 536.5 659.2 536.7 658.9 C536.9 658.7 537.1 658.4 537.4 658.1 C537.6 657.8 537.8 657.6 538.1 657.4 C538.3 657.2 538.5 657 538.8 656.8 C539 656.7 539.3 656.5 539.5 656.4 C539.7 656.3 540 656.3 540.2 656.2 C540.4 656.2 540.7 656.3 540.8 656.3" style="stroke-width:1.75"/>
<path class="l" d="M539.6 667.4 C539.5 667.4 539.3 667.2 539.2 667 C539.1 666.8 539 666.6 538.9 666.4 C538.9 666.2 538.8 665.9 538.8 665.7 C538.8 665.4 538.8 665.1 538.8 664.8 C538.9 664.5 538.9 664.2 539 663.8 C539.1 663.5 539.2 663.2 539.3 662.9 C539.4 662.5 539.6 662.2 539.8 661.9 C539.9 661.6 540.1 661.2 540.3 660.9 C540.5 660.6 540.7 660.4 541 660.1 C541.2 659.8 541.4 659.6 541.6 659.4 C541.9 659.2 542.1 659 542.4 658.8 C542.6 658.7 542.9 658.5 543.1 658.4 C543.3 658.3 543.5 658.3 543.8 658.2 C544 658.2 544.3 658.3 544.4 658.3" style="stroke-width:1.75"/>
<path class="f" d="M597.7 678.1 C598.2 678.4 598.6 678.7 598.9 679 C599.3 679.4 599.6 679.8 599.9 680.3 C600.1 680.8 600.4 681.3 600.5 681.9 C600.7 682.5 600.9 683.1 600.9 683.8 C601 684.4 601 685.1 601 685.8 C601 686.6 600.9 687.3 600.7 688.1 C600.6 688.8 600.4 689.6 600.2 690.4 C600 691.1 599.7 691.9 599.3 692.7 C599 693.4 598.7 694.2 598.2 694.9 C597.8 695.6 597.4 696.4 596.9 697 C596.4 697.7 595.9 698.4 595.4 699 C594.9 699.6 594.3 700.1 593.7 700.6 C593.2 701.1 592.6 701.6 592 702 C591.4 702.4 590.8 702.8 590.2 703 C589.6 703.3 589 703.5 588.4 703.7 C587.8 703.8 587.2 703.9 586.7 704 C586.1 704 585.6 703.9 585.1 703.8 C584.6 703.7 584.1 703.5 583.7 703.3 C583.2 703 582.8 702.7 582.5 702.4 C582.1 702 581.8 701.6 581.5 701.1 C581.3 700.6 581 700.1 580.9 699.5 C580.7 698.9 580.5 698.3 580.5 697.6 C580.4 697 580.4 696.3 580.4 695.6 C580.4 694.8 580.5 694.1 580.7 693.3 C580.8 692.6 581 691.8 581.2 691 C581.4 690.3 581.7 689.5 582.1 688.7 C582.4 688 582.7 687.2 583.2 686.5 C583.6 685.8 584 685 584.5 684.4 C585 683.7 585.5 683 586 682.4 C586.5 681.8 587.1 681.3 587.7 680.8 C588.2 680.3 588.8 679.8 589.4 679.4 C590 679 590.6 678.6 591.2 678.4 C591.8 678.1 592.4 677.9 593 677.7 C593.6 677.6 594.2 677.5 594.7 677.4 C595.3 677.4 595.8 677.5 596.3 677.6 C596.8 677.7 597.3 677.9 597.7 678.1Z"/>
<path class="l" d="M589.7 701.3 C589.5 701.4 588.8 701.5 588.3 701.5 C587.9 701.6 587.5 701.5 587.1 701.4 C586.7 701.3 586.3 701.2 586 701 C585.6 700.8 585.3 700.6 585 700.3 C584.8 700 584.5 699.7 584.3 699.3 C584.1 698.9 583.9 698.5 583.8 698 C583.6 697.6 583.5 697.1 583.5 696.6 C583.4 696.1 583.4 695.5 583.4 695 C583.4 694.4 583.5 693.8 583.6 693.2 C583.7 692.6 583.9 692 584 691.4 C584.2 690.8 584.4 690.2 584.7 689.6 C585 689 585.2 688.4 585.6 687.8 C585.9 687.3 586.2 686.7 586.6 686.2 C587 685.6 587.4 685.1 587.8 684.7 C588.2 684.2 588.7 683.7 589.1 683.3 C589.6 682.9 590 682.6 590.5 682.3 C591 682 591.4 681.7 591.9 681.5 C592.4 681.2 592.8 681.1 593.3 680.9 C593.7 680.8 594.2 680.8 594.6 680.7 C595.1 680.7 595.5 680.8 595.9 680.8 C596.3 680.9 596.6 681.1 597 681.3 C597.3 681.5 597.7 681.7 597.9 682 C598.2 682.3 598.6 682.8 598.7 683"/>
<path class="f" d="M600.5 684.7 C600.8 684.9 601.1 685.1 601.3 685.4 C601.6 685.6 601.8 685.9 602 686.3 C602.2 686.6 602.4 687 602.5 687.4 C602.6 687.8 602.7 688.2 602.8 688.7 C602.9 689.1 602.9 689.6 602.9 690.1 C602.9 690.6 602.8 691.2 602.7 691.7 C602.6 692.2 602.5 692.7 602.3 693.3 C602.2 693.8 602 694.4 601.8 694.9 C601.5 695.4 601.3 695.9 601 696.4 C600.7 697 600.4 697.5 600.1 697.9 C599.7 698.4 599.4 698.8 599 699.3 C598.6 699.7 598.2 700.1 597.8 700.4 C597.4 700.8 597 701.1 596.6 701.4 C596.2 701.6 595.8 701.9 595.3 702.1 C594.9 702.3 594.5 702.4 594.1 702.5 C593.7 702.6 593.3 702.7 592.9 702.7 C592.5 702.7 592.1 702.6 591.7 702.6 C591.4 702.5 591 702.3 590.7 702.2 C590.4 702 590.1 701.8 589.9 701.5 C589.6 701.2 589.4 700.9 589.2 700.6 C589 700.3 588.8 699.9 588.7 699.5 C588.5 699.1 588.4 698.6 588.4 698.2 C588.3 697.7 588.3 697.2 588.3 696.7 C588.3 696.2 588.4 695.7 588.5 695.2 C588.6 694.7 588.7 694.1 588.8 693.6 C589 693 589.2 692.5 589.4 692 C589.6 691.4 589.9 690.9 590.2 690.4 C590.5 689.9 590.8 689.4 591.1 688.9 C591.4 688.5 591.8 688 592.2 687.6 C592.5 687.2 592.9 686.8 593.3 686.4 C593.7 686.1 594.2 685.8 594.6 685.5 C595 685.2 595.4 685 595.8 684.8 C596.3 684.6 596.7 684.5 597.1 684.4 C597.5 684.3 597.9 684.2 598.3 684.2 C598.7 684.2 599.1 684.2 599.4 684.3 C599.8 684.4 600.1 684.5 600.5 684.7Z"/>
<path class="l" d="M592.2 681.3 L595.3 685"/>
<path class="l" d="M583.4 694.6 L588.5 694.9"/>
<path class="l" d="M600.5 684.7 L597 681.3"/>
<path class="l" d="M590.7 702.2 L585.7 700.8"/>
</g>
<g>
<path class="w" d="M469.2 733.8 C469.1 733.7 468.8 733.5 468.7 733.3 C468.5 733.1 468.4 732.9 468.4 732.6 C468.3 732.3 468.3 732 468.3 731.6 C468.3 731.3 468.3 730.9 468.4 730.5 C468.5 730.2 468.6 729.8 468.7 729.4 C468.9 729 469.1 728.6 469.3 728.2 C469.5 727.8 469.7 727.4 469.9 727.1 C470.2 726.8 470.5 726.5 470.7 726.2 C471 725.9 471.3 725.7 471.6 725.5 C471.9 725.3 472.2 725.1 472.4 725 C472.7 724.9 473 724.9 473.2 724.9 C473.4 724.9 473.8 725 473.9 725.1 L555.7 769.1 L551 777.8Z"/>
<path class="l" d="M469.2 733.8 C469.1 733.7 468.8 733.5 468.7 733.3 C468.5 733.1 468.4 732.9 468.4 732.6 C468.3 732.3 468.3 732 468.3 731.6 C468.3 731.3 468.3 730.9 468.4 730.5 C468.5 730.2 468.6 729.8 468.7 729.4 C468.9 729 469.1 728.6 469.3 728.2 C469.5 727.8 469.7 727.4 469.9 727.1 C470.2 726.8 470.5 726.5 470.7 726.2 C471 725.9 471.3 725.7 471.6 725.5 C471.9 725.3 472.2 725.1 472.4 725 C472.7 724.9 473 724.9 473.2 724.9 C473.4 724.9 473.8 725 473.9 725.1"/>
<path class="l" d="M499.7 739 L555.7 769.1"/>
<path class="l" d="M495 747.7 L551 777.8"/>
<path class="n" d="M474.3 725.3 L499.7 739"/>
<path class="n" d="M469.6 734 L495 747.7"/>
<path class="l" d="M471.5 735.3 C471.4 735.2 471.2 735.1 471.1 734.9 C471 734.7 470.9 734.5 470.8 734.3 C470.7 734.1 470.7 733.8 470.7 733.5 C470.6 733.3 470.6 733 470.7 732.7 C470.7 732.4 470.8 732.1 470.8 731.7 C470.9 731.4 471 731.1 471.1 730.7 C471.3 730.4 471.4 730.1 471.6 729.8 C471.7 729.4 471.9 729.1 472.1 728.8 C472.3 728.5 472.5 728.2 472.7 728 C473 727.7 473.2 727.4 473.4 727.2 C473.7 727 473.9 726.8 474.1 726.6 C474.4 726.5 474.6 726.4 474.8 726.3 C475.1 726.2 475.3 726.1 475.5 726.1 C475.7 726 476 726.1 476.1 726.1" style="stroke-width:1.75"/>
<path class="l" d="M475.1 737.2 C475 737.2 474.8 737 474.7 736.8 C474.6 736.7 474.5 736.5 474.4 736.2 C474.3 736 474.3 735.8 474.3 735.5 C474.2 735.2 474.3 734.9 474.3 734.6 C474.3 734.3 474.4 734 474.4 733.7 C474.5 733.4 474.6 733 474.7 732.7 C474.9 732.4 475 732 475.2 731.7 C475.3 731.4 475.5 731.1 475.7 730.8 C475.9 730.5 476.1 730.2 476.3 729.9 C476.6 729.6 476.8 729.4 477 729.2 C477.3 729 477.5 728.8 477.7 728.6 C478 728.4 478.2 728.3 478.5 728.2 C478.7 728.1 478.9 728 479.1 728 C479.3 728 479.6 728 479.7 728" style="stroke-width:1.75"/>
<path class="l" d="M478.7 739.2 C478.6 739.1 478.4 738.9 478.3 738.8 C478.2 738.6 478.1 738.4 478 738.2 C477.9 738 477.9 737.7 477.9 737.4 C477.9 737.2 477.9 736.9 477.9 736.6 C477.9 736.3 478 735.9 478.1 735.6 C478.1 735.3 478.2 735 478.4 734.6 C478.5 734.3 478.6 734 478.8 733.6 C478.9 733.3 479.1 733 479.3 732.7 C479.5 732.4 479.7 732.1 480 731.8 C480.2 731.6 480.4 731.3 480.6 731.1 C480.9 730.9 481.1 730.7 481.4 730.5 C481.6 730.4 481.8 730.2 482.1 730.1 C482.3 730 482.5 730 482.7 730 C483 729.9 483.3 730 483.4 730" style="stroke-width:1.75"/>
<path class="l" d="M482.3 741.1 C482.2 741.1 482 740.9 481.9 740.7 C481.8 740.6 481.7 740.3 481.6 740.1 C481.6 739.9 481.5 739.6 481.5 739.4 C481.5 739.1 481.5 738.8 481.5 738.5 C481.5 738.2 481.6 737.9 481.7 737.6 C481.7 737.2 481.8 736.9 482 736.6 C482.1 736.2 482.2 735.9 482.4 735.6 C482.6 735.3 482.7 734.9 482.9 734.6 C483.1 734.3 483.3 734.1 483.6 733.8 C483.8 733.5 484 733.3 484.2 733.1 C484.5 732.8 484.7 732.6 485 732.5 C485.2 732.3 485.4 732.2 485.7 732.1 C485.9 732 486.1 731.9 486.4 731.9 C486.6 731.9 486.9 731.9 487 731.9" style="stroke-width:1.75"/>
<path class="l" d="M485.9 743.1 C485.9 743 485.6 742.8 485.5 742.7 C485.4 742.5 485.3 742.3 485.2 742.1 C485.2 741.8 485.1 741.6 485.1 741.3 C485.1 741.1 485.1 740.8 485.1 740.5 C485.1 740.2 485.2 739.8 485.3 739.5 C485.3 739.2 485.4 738.9 485.6 738.5 C485.7 738.2 485.8 737.9 486 737.5 C486.2 737.2 486.3 736.9 486.5 736.6 C486.7 736.3 487 736 487.2 735.7 C487.4 735.5 487.6 735.2 487.9 735 C488.1 734.8 488.3 734.6 488.6 734.4 C488.8 734.3 489.1 734.1 489.3 734 C489.5 733.9 489.7 733.9 490 733.8 C490.2 733.8 490.5 733.9 490.6 733.9" style="stroke-width:1.75"/>
<path class="l" d="M489.5 745 C489.5 745 489.2 744.8 489.1 744.6 C489 744.4 488.9 744.2 488.8 744 C488.8 743.8 488.7 743.5 488.7 743.3 C488.7 743 488.7 742.7 488.7 742.4 C488.7 742.1 488.8 741.8 488.9 741.5 C489 741.1 489.1 740.8 489.2 740.5 C489.3 740.1 489.5 739.8 489.6 739.5 C489.8 739.2 490 738.8 490.2 738.5 C490.3 738.2 490.6 737.9 490.8 737.7 C491 737.4 491.2 737.2 491.5 737 C491.7 736.7 491.9 736.5 492.2 736.4 C492.4 736.2 492.7 736.1 492.9 736 C493.1 735.9 493.4 735.8 493.6 735.8 C493.8 735.8 494.1 735.8 494.2 735.8" style="stroke-width:1.75"/>
<path class="l" d="M493.1 747 C493.1 746.9 492.8 746.7 492.7 746.6 C492.6 746.4 492.5 746.2 492.4 746 C492.4 745.7 492.3 745.5 492.3 745.2 C492.3 744.9 492.3 744.7 492.3 744.4 C492.4 744 492.4 743.7 492.5 743.4 C492.6 743.1 492.7 742.7 492.8 742.4 C492.9 742.1 493.1 741.7 493.2 741.4 C493.4 741.1 493.6 740.8 493.8 740.5 C494 740.2 494.2 739.9 494.4 739.6 C494.6 739.4 494.8 739.1 495.1 738.9 C495.3 738.7 495.6 738.5 495.8 738.3 C496 738.2 496.3 738 496.5 737.9 C496.7 737.8 497 737.8 497.2 737.7 C497.4 737.7 497.7 737.7 497.8 737.7" style="stroke-width:1.75"/>
<path class="f" d="M562.5 762.8 C563 763.1 563.4 763.4 563.7 763.7 C564.1 764.1 564.4 764.5 564.7 765 C565 765.5 565.2 766 565.4 766.6 C565.6 767.1 565.7 767.8 565.8 768.4 C565.9 769.1 565.9 769.8 565.9 770.5 C565.9 771.2 565.8 772 565.7 772.7 C565.6 773.5 565.4 774.2 565.2 775 C565 775.8 564.7 776.6 564.4 777.3 C564.1 778.1 563.7 778.9 563.3 779.6 C562.9 780.3 562.5 781.1 562 781.7 C561.5 782.4 561 783.1 560.5 783.7 C560 784.3 559.4 784.9 558.9 785.4 C558.3 785.9 557.7 786.4 557.1 786.8 C556.5 787.2 555.9 787.6 555.4 787.8 C554.8 788.1 554.2 788.4 553.6 788.5 C553 788.7 552.4 788.8 551.9 788.8 C551.3 788.8 550.8 788.8 550.3 788.7 C549.8 788.6 549.3 788.4 548.9 788.2 C548.4 787.9 548 787.6 547.7 787.3 C547.3 786.9 547 786.5 546.7 786 C546.4 785.5 546.2 785 546 784.4 C545.8 783.9 545.7 783.2 545.6 782.6 C545.5 781.9 545.5 781.2 545.5 780.5 C545.5 779.8 545.6 779 545.7 778.3 C545.8 777.5 546 776.8 546.2 776 C546.4 775.2 546.7 774.4 547 773.7 C547.3 772.9 547.7 772.1 548.1 771.4 C548.5 770.7 548.9 769.9 549.4 769.3 C549.9 768.6 550.4 767.9 550.9 767.3 C551.4 766.7 552 766.1 552.5 765.6 C553.1 765.1 553.7 764.6 554.3 764.2 C554.9 763.8 555.5 763.4 556 763.2 C556.6 762.9 557.2 762.6 557.8 762.5 C558.4 762.3 559 762.2 559.5 762.2 C560.1 762.2 560.6 762.2 561.1 762.3 C561.6 762.4 562.1 762.6 562.5 762.8Z"/>
<path class="l" d="M554.8 786.1 C554.6 786.2 553.9 786.4 553.5 786.4 C553.1 786.4 552.6 786.4 552.2 786.3 C551.9 786.2 551.5 786.1 551.1 785.9 C550.8 785.7 550.5 785.4 550.2 785.2 C549.9 784.9 549.6 784.5 549.4 784.2 C549.2 783.8 549 783.4 548.9 782.9 C548.7 782.5 548.6 782 548.5 781.5 C548.5 781 548.5 780.4 548.5 779.9 C548.5 779.3 548.5 778.7 548.6 778.1 C548.7 777.5 548.9 776.9 549.1 776.3 C549.2 775.7 549.4 775.1 549.7 774.5 C549.9 773.9 550.2 773.3 550.5 772.7 C550.8 772.1 551.2 771.6 551.5 771 C551.9 770.5 552.3 770 552.7 769.5 C553.1 769 553.6 768.6 554 768.2 C554.4 767.8 554.9 767.4 555.4 767.1 C555.8 766.7 556.3 766.5 556.8 766.2 C557.2 766 557.7 765.8 558.2 765.7 C558.6 765.6 559.1 765.5 559.5 765.5 C559.9 765.5 560.3 765.5 560.7 765.6 C561.1 765.7 561.5 765.8 561.9 766 C562.2 766.2 562.5 766.4 562.8 766.7 C563.1 767 563.4 767.5 563.6 767.7"/>
<path class="f" d="M565.4 769.4 C565.7 769.5 566 769.7 566.3 770 C566.5 770.3 566.8 770.6 567 770.9 C567.2 771.2 567.3 771.6 567.5 772 C567.6 772.4 567.7 772.8 567.8 773.3 C567.8 773.8 567.9 774.3 567.9 774.8 C567.9 775.3 567.8 775.8 567.7 776.3 C567.6 776.8 567.5 777.4 567.4 777.9 C567.2 778.4 567 779 566.8 779.5 C566.6 780.1 566.4 780.6 566.1 781.1 C565.8 781.6 565.5 782.1 565.2 782.6 C564.9 783.1 564.5 783.5 564.1 783.9 C563.8 784.4 563.4 784.8 563 785.1 C562.6 785.5 562.2 785.8 561.8 786.1 C561.3 786.3 560.9 786.6 560.5 786.8 C560.1 787 559.7 787.1 559.2 787.3 C558.8 787.4 558.4 787.4 558 787.4 C557.6 787.4 557.3 787.4 556.9 787.3 C556.5 787.3 556.2 787.1 555.9 787 C555.6 786.8 555.3 786.6 555 786.3 C554.7 786.1 554.5 785.8 554.3 785.4 C554.1 785.1 553.9 784.7 553.8 784.3 C553.7 783.9 553.6 783.5 553.5 783 C553.4 782.6 553.4 782.1 553.4 781.6 C553.4 781.1 553.5 780.5 553.5 780 C553.6 779.5 553.7 778.9 553.9 778.4 C554 777.9 554.2 777.3 554.4 776.8 C554.6 776.3 554.9 775.7 555.2 775.2 C555.4 774.7 555.8 774.2 556.1 773.7 C556.4 773.3 556.8 772.8 557.1 772.4 C557.5 772 557.9 771.6 558.3 771.2 C558.7 770.9 559.1 770.5 559.5 770.2 C559.9 770 560.3 769.7 560.8 769.5 C561.2 769.3 561.6 769.2 562 769.1 C562.4 769 562.8 768.9 563.2 768.9 C563.6 768.9 564 768.9 564.4 769 C564.7 769.1 565.1 769.2 565.4 769.4Z"/>
<path class="l" d="M557 766.1 L560.3 769.8"/>
<path class="l" d="M548.5 779.5 L553.6 779.7"/>
<path class="l" d="M565.4 769.4 L561.9 766"/>
<path class="l" d="M555.9 787 L550.8 785.7"/>
</g>
</g>
<g id="fwd" style="filter:grayscale(1)">
<path class="f" d="M78.2 804 L91.6 783.4 L94.3 784.8 L94.7 788.1 L96.5 787.1 L114.5 776.5 L117.8 778.6 L117.9 794.5 L95 806.5 L95.1 813.3Z" style="stroke-width:1.8"/>
<path class="l" d="M81.8 805.8 L94.1 788.1 L94.7 791.5 L117 780.2 L117.6 794.2" style="stroke-width:1.2"/>
<path class="l" d="M117 780.2 L117.8 778.6"/>
<path class="l" d="M94.7 791.5 L95 806.5" style="stroke-width:1.8"/>
<text transform="matrix(0.655 -0.345 -0.12 1 94.7 805.6)" style="font-weight:bold;font-size:14.6px;text-anchor:start;stroke-width:0.9px;stroke-linejoin:round">FWD</text>
</g>
<g id="center">
<path class="t" d="M438.8 394.9 L478.5 417.4 L388.5 469.1 L315.8 428.3 L192.1 499.1 L204.2 505.6" style="stroke-linejoin:miter"/>
<path class="t" d="M392.5 465.2 L399.5 462.8 M276.6 449.2 L284.6 446.2" style="stroke:#fff;stroke-width:3"/>
<path class="t" d="M395.2 465.2 L396.8 464.3 M279.6 448.9 L281.4 447.9"/>
<path class="t" d="M145 365.5 L145 354.6 L219.9 343.3 L219.9 420.2 L280.5 411.2 L280.5 406.5" style="stroke-linejoin:miter"/>
<path class="t" d="M377.9 562.4 L406.6 579 L436.5 563.2 L443.7 567.4" style="stroke-linejoin:miter"/>
<path class="t" d="M386.5 567.4 L393.5 571.4" style="stroke:#fff;stroke-width:3"/>
<path class="t" d="M389.4 569 L390.8 569.9"/>
<path class="t" d="M422.4 594.1 L514.9 646"/>
<path class="t" d="M468.3 619.9 L475.3 623.8" style="stroke:#fff;stroke-width:3"/>
<path class="t" d="M471.2 621.5 L472.6 622.3"/>
<path class="t" d="M396.8 626.8 L419 639.4"/>
<path class="t" d="M336.6 649.1 L464.4 723.6"/>
<path class="t" d="M402.5 687.5 L409.5 691.6" style="stroke:#fff;stroke-width:3"/>
<path class="t" d="M405.4 689.2 L406.8 690"/>
</g>
<g id="leaders">
<path class="t" d="M137.4 121.2 L125.4 173.1"/>
<path class="t" d="M202 163 L159.9 219.8"/>
<path class="t" d="M241.2 183.7 L197.5 223.6"/>
<path class="t" d="M276.1 203.6 L232.4 250.3"/>
<path class="t" d="M351.8 185.4 L334.3 229.8"/>
<path class="t" d="M442.9 140 L411.2 187.9"/>
<path class="t" d="M426.9 231.1 L404.5 274.8"/>
<path class="t" d="M479.4 320.9 L449 364.5"/>
<path class="t" d="M159.1 370.3 L186.9 372.9"/>
<path class="t" d="M152 406.2 L186.9 411.9"/>
<path class="t" d="M442.5 505 L418.2 524.1"/>
<path class="t" d="M495.4 537.9 L478.2 580.6"/>
<path class="t" d="M575.3 629.8 L563.6 667.7"/>
<path class="t" d="M423 657 L418.7 675"/>
<path class="t" d="M456.2 677.5 L454.6 697.7"/>
<path class="t" d="M516.6 759.8 L492.9 814.7"/>
<path class="t" d="M254.1 577.4 L234.9 619.8"/>
</g>
<g id="labels" style="filter:grayscale(1)">
<text transform="translate(139.9 119.5) scale(1.16 1)">15</text>
<text transform="translate(208.7 158.7) scale(1.16 1)">7</text>
<text transform="translate(246.4 181.4) scale(1.16 1)">4</text>
<text transform="translate(281.1 201.4) scale(1.16 1)">5</text>
<text transform="translate(354.4 182.4) scale(1.16 1)">3</text>
<text transform="translate(446.4 135.7) scale(1.16 1)">1</text>
<text transform="translate(431.4 226.8) scale(1.16 1)">9</text>
<text transform="translate(483.9 318) scale(1.16 1)">6</text>
<text transform="translate(195.7 377) scale(1.16 1)">14</text>
<text transform="translate(195.7 416.5) scale(1.16 1)">13</text>
<text transform="translate(449.7 503.2) scale(1.16 1)">8</text>
<text transform="translate(500.1 532) scale(1.16 1)">10</text>
<text transform="translate(581 624.8) scale(1.16 1)">17</text>
<text transform="translate(417.2 687.9) scale(1.16 1)">12</text>
<text transform="translate(453 709.1) scale(1.16 1)">11</text>
<text transform="translate(488.6 831) scale(1.16 1)">16</text>
<text transform="translate(231.8 631.4) scale(1.16 1)">2</text>
<text transform="translate(57 832) scale(1.17 1)" style="font-size:11.8px;text-anchor:start">5GHJ171-2060</text>
</g>
</svg>
</body></html>
